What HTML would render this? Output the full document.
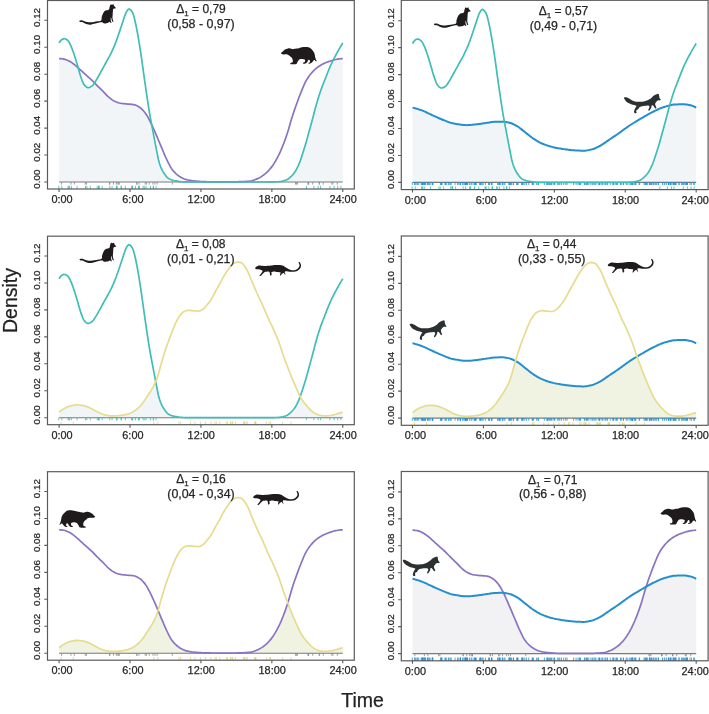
<!DOCTYPE html>
<html><head><meta charset="utf-8"><style>
html,body{margin:0;padding:0;background:#fff;}
body{width:709px;height:714px;overflow:hidden;}
svg{display:block;font-family:"Liberation Sans", sans-serif;filter:blur(0.35px);}
text{stroke:#262626;stroke-width:0.25px;}
</style></head><body>
<svg width="709" height="714" viewBox="0 0 709 714">
<rect width="709" height="714" fill="#fff"/>
<path d="M59.1,182 L59.1,58.57 60.28,58.61 61.46,58.72 62.65,58.88 63.83,59.07 65.01,59.32 66.19,59.72 67.37,60.22 68.56,60.79 69.74,61.4 70.92,62.07 72.1,62.86 73.28,63.74 74.47,64.65 75.65,65.59 76.83,66.6 78.01,67.67 79.19,71.51 80.38,75.49 81.56,78.93 82.74,82.17 83.92,84.54 85.1,85.88 86.29,86.95 87.47,87.59 88.65,87.62 89.83,87.25 91.01,86.61 92.2,85.84 93.38,84.55 94.56,82.89 95.74,84.12 96.92,85.34 98.11,86.53 99.29,87.68 100.47,88.82 101.65,89.96 102.83,91.11 104.02,92.31 105.2,93.57 106.38,94.84 107.56,96.05 108.74,97.14 109.93,98.12 111.11,99.05 112.29,99.9 113.47,100.65 114.65,101.26 115.84,101.8 117.02,102.28 118.2,102.69 119.38,103.02 120.56,103.25 121.75,103.42 122.93,103.56 124.11,103.69 125.29,103.81 126.47,103.93 127.66,104.03 128.84,104.11 130.02,104.2 131.2,104.3 132.38,104.42 133.57,104.58 134.75,104.81 135.93,105.22 137.11,105.78 138.29,106.45 139.48,107.2 140.66,108.03 141.84,109.08 143.02,110.31 144.2,111.68 145.39,113.16 146.57,114.91 147.75,116.94 148.93,119.12 150.11,121.39 151.3,123.85 152.48,128.94 153.66,135.15 154.84,141.39 156.02,147.67 157.21,153.69 158.39,159.53 159.57,163.82 160.75,167.04 161.93,169.7 163.12,171.87 164.3,173.68 165.48,175.35 166.66,176.81 167.84,177.97 169.03,178.77 170.21,179.31 171.39,179.77 172.57,180.15 173.75,180.47 174.94,180.73 176.12,180.94 177.3,181.13 178.48,181.31 179.66,181.48 180.85,181.62 182.03,181.73 183.21,181.82 184.39,181.87 185.57,181.89 186.76,181.92 187.94,181.94 189.12,181.96 190.3,181.97 191.48,181.98 192.67,181.99 193.85,182 195.03,182 196.21,182 197.39,182 198.58,182 199.76,182 200.94,182 202.12,182 203.3,182 204.49,182 205.67,182 206.85,182 208.03,182 209.21,182 210.4,182 211.58,182 212.76,182 213.94,182 215.12,182 216.31,182 217.49,182 218.67,182 219.85,182 221.03,182 222.22,182 223.4,182 224.58,182 225.76,182 226.94,182 228.13,182 229.31,182 230.49,182 231.67,182 232.85,182 234.04,182 235.22,182 236.4,182 237.58,182 238.76,182 239.95,182 241.13,182 242.31,182 243.49,182 244.67,182 245.86,182 247.04,182 248.22,182 249.4,182 250.58,182 251.77,182 252.95,182 254.13,182 255.31,182 256.49,182 257.68,182 258.86,182 260.04,182 261.22,182 262.4,182 263.59,182 264.77,182 265.95,182 267.13,182 268.31,181.99 269.5,181.97 270.68,181.95 271.86,181.93 273.04,181.9 274.22,181.86 275.41,181.82 276.59,181.78 277.77,181.73 278.95,181.65 280.13,181.5 281.32,181.3 282.5,181.05 283.68,180.76 284.86,180.43 286.04,180.04 287.23,179.47 288.41,178.71 289.59,177.8 290.77,176.74 291.95,175.57 293.14,174.31 294.32,172.88 295.5,171.07 296.68,168.92 297.86,166.53 299.05,163.95 300.23,160.88 301.41,157.4 302.59,153.75 303.77,150.08 304.96,146.23 306.14,142.25 307.32,138.11 308.5,133.84 309.68,129.53 310.87,125.19 312.05,120.81 313.23,116.39 314.41,111.83 315.59,107.33 316.78,103.12 317.96,99.1 319.14,95.27 320.32,91.7 321.5,88.4 322.69,85.28 323.87,82.26 325.05,79.25 326.23,76.22 327.41,73.21 328.6,70.27 329.78,67.44 330.96,64.78 332.14,62.27 333.32,60.07 334.51,59.75 335.69,59.49 336.87,59.28 338.05,59.08 339.23,58.9 340.42,58.75 341.6,58.64 342.78,58.57 L342.78,182 Z" fill="#f1f5f8"/>
<line x1="59.1" y1="182" x2="342.78" y2="182" stroke="#7a7a7a" stroke-width="1.1"/>
<path d="M61.48,182v2.6M70.96,182v2.6M74.4,182v2.6M85.2,182v2.6M86.48,182v2.6M109.67,182v2.6M109.74,182v2.6M113.45,182v2.6M116.35,182v2.6M117.84,182v2.6M118.96,182v2.6M118.99,182v2.6M136.79,182v2.6M136.98,182v2.6M139.01,182v2.6M145.17,182v2.6M146.46,182v2.6M149.18,182v2.6M152.99,182v2.6M154.98,182v2.6M157.11,182v2.6M172.39,182v2.6M295.58,182v2.6M296.4,182v2.6M297.57,182v2.6M308.08,182v2.6M308.3,182v2.6M308.7,182v2.6M312.74,182v2.6M319.18,182v2.6M319.59,182v2.6M323.28,182v2.6M331.84,182v2.6M332.88,182v2.6M337.32,182v2.6" stroke="#888888" stroke-width="0.8" fill="none"/>
<path d="M58.75,189v-3.2M61.81,189v-3.2M68.07,189v-3.2M68.86,189v-3.2M69.61,189v-3.2M71.36,189v-3.2M77.06,189v-3.2M85.53,189v-3.2M86.84,189v-3.2M90.28,189v-3.2M97.22,189v-3.2M98.6,189v-3.2M98.9,189v-3.2M99.05,189v-3.2M102.2,189v-3.2M109.77,189v-3.2M112.02,189v-3.2M116.49,189v-3.2M116.9,189v-3.2M116.99,189v-3.2M121.12,189v-3.2M121.33,189v-3.2M125.37,189v-3.2M131.62,189v-3.2M132.51,189v-3.2M132.52,189v-3.2M135.49,189v-3.2M138.59,189v-3.2M139.11,189v-3.2M139.14,189v-3.2M143.08,189v-3.2M144.28,189v-3.2M146.04,189v-3.2M150.53,189v-3.2M153.3,189v-3.2M153.41,189v-3.2M156.02,189v-3.2M306.48,189v-3.2M313.94,189v-3.2M318.2,189v-3.2M320.57,189v-3.2M329.92,189v-3.2M334.17,189v-3.2M337.67,189v-3.2M340.83,189v-3.2" stroke="#3fbdb6" stroke-width="0.8" fill="none"/>
<polyline points="59.1,58.57 60.28,58.61 61.46,58.72 62.65,58.88 63.83,59.07 65.01,59.32 66.19,59.72 67.37,60.22 68.56,60.79 69.74,61.4 70.92,62.07 72.1,62.86 73.28,63.74 74.47,64.65 75.65,65.59 76.83,66.6 78.01,67.67 79.19,68.77 80.38,69.86 81.56,70.93 82.74,72 83.92,73.07 85.1,74.13 86.29,75.2 87.47,76.26 88.65,77.3 89.83,78.34 91.01,79.4 92.2,80.51 93.38,81.68 94.56,82.89 95.74,84.12 96.92,85.34 98.11,86.53 99.29,87.68 100.47,88.82 101.65,89.96 102.83,91.11 104.02,92.31 105.2,93.57 106.38,94.84 107.56,96.05 108.74,97.14 109.93,98.12 111.11,99.05 112.29,99.9 113.47,100.65 114.65,101.26 115.84,101.8 117.02,102.28 118.2,102.69 119.38,103.02 120.56,103.25 121.75,103.42 122.93,103.56 124.11,103.69 125.29,103.81 126.47,103.93 127.66,104.03 128.84,104.11 130.02,104.2 131.2,104.3 132.38,104.42 133.57,104.58 134.75,104.81 135.93,105.22 137.11,105.78 138.29,106.45 139.48,107.2 140.66,108.03 141.84,109.08 143.02,110.31 144.2,111.68 145.39,113.16 146.57,114.91 147.75,116.94 148.93,119.12 150.11,121.39 151.3,123.85 152.48,126.42 153.66,129.04 154.84,131.71 156.02,134.44 157.21,137.21 158.39,139.99 159.57,142.81 160.75,145.64 161.93,148.44 163.12,151.24 164.3,154.05 165.48,156.76 166.66,159.3 167.84,161.8 169.03,164.23 170.21,166.48 171.39,168.41 172.57,169.97 173.75,171.37 174.94,172.65 176.12,173.79 177.3,174.81 178.48,175.69 179.66,176.48 180.85,177.21 182.03,177.88 183.21,178.47 184.39,178.98 185.57,179.37 186.76,179.68 187.94,179.96 189.12,180.21 190.3,180.43 191.48,180.63 192.67,180.8 193.85,180.94 195.03,181.06 196.21,181.16 197.39,181.26 198.58,181.35 199.76,181.43 200.94,181.51 202.12,181.57 203.3,181.63 204.49,181.68 205.67,181.71 206.85,181.73 208.03,181.74 209.21,181.76 210.4,181.77 211.58,181.78 212.76,181.79 213.94,181.8 215.12,181.81 216.31,181.82 217.49,181.82 218.67,181.83 219.85,181.84 221.03,181.84 222.22,181.85 223.4,181.85 224.58,181.86 225.76,181.86 226.94,181.86 228.13,181.86 229.31,181.86 230.49,181.87 231.67,181.86 232.85,181.85 234.04,181.83 235.22,181.81 236.4,181.78 237.58,181.75 238.76,181.72 239.95,181.68 241.13,181.64 242.31,181.6 243.49,181.55 244.67,181.49 245.86,181.42 247.04,181.34 248.22,181.24 249.4,181.12 250.58,180.97 251.77,180.73 252.95,180.4 254.13,180.01 255.31,179.56 256.49,179.09 257.68,178.6 258.86,178.03 260.04,177.39 261.22,176.68 262.4,175.9 263.59,175.07 264.77,174.18 265.95,173.17 267.13,172.06 268.31,170.85 269.5,169.54 270.68,168.15 271.86,166.65 273.04,164.99 274.22,163.18 275.41,161.22 276.59,159.15 277.77,156.98 278.95,154.66 280.13,152.13 281.32,149.41 282.5,146.54 283.68,143.56 284.86,140.41 286.04,137.05 287.23,133.52 288.41,129.82 289.59,125.75 290.77,121.56 291.95,117.56 293.14,113.89 294.32,110.37 295.5,106.98 296.68,103.67 297.86,100.43 299.05,97.29 300.23,94.26 301.41,91.34 302.59,88.41 303.77,85.57 304.96,82.95 306.14,80.67 307.32,78.7 308.5,76.92 309.68,75.3 310.87,73.82 312.05,72.44 313.23,71.16 314.41,69.98 315.59,68.9 316.78,67.93 317.96,67.04 319.14,66.22 320.32,65.46 321.5,64.77 322.69,64.12 323.87,63.52 325.05,62.97 326.23,62.47 327.41,62.01 328.6,61.59 329.78,61.2 330.96,60.82 332.14,60.44 333.32,60.07 334.51,59.75 335.69,59.49 336.87,59.28 338.05,59.08 339.23,58.9 340.42,58.75 341.6,58.64 342.78,58.57" fill="none" stroke="#8b72c2" stroke-width="1.7" stroke-linejoin="round"/>
<polyline points="59.1,43.07 60.28,41.15 61.46,39.89 62.65,39.08 63.83,38.64 65.01,38.77 66.19,39.26 67.37,39.97 68.56,41.31 69.74,43.45 70.92,45.88 72.1,48.74 73.28,52.08 74.47,55.59 75.65,59.37 76.83,63.33 78.01,67.32 79.19,71.51 80.38,75.49 81.56,78.93 82.74,82.17 83.92,84.54 85.1,85.88 86.29,86.95 87.47,87.59 88.65,87.62 89.83,87.25 91.01,86.61 92.2,85.84 93.38,84.55 94.56,82.77 95.74,80.93 96.92,78.97 98.11,76.87 99.29,74.72 100.47,72.61 101.65,70.47 102.83,68.31 104.02,66.14 105.2,63.98 106.38,61.86 107.56,59.78 108.74,57.66 109.93,55.43 111.11,53.07 112.29,50.59 113.47,47.97 114.65,45.17 115.84,42.11 117.02,38.86 118.2,35.52 119.38,32.11 120.56,28.55 121.75,24.98 122.93,21.49 124.11,17.75 125.29,14.28 126.47,11.87 127.66,9.97 128.84,8.99 130.02,9.39 131.2,10.6 132.38,12.3 133.57,15.15 134.75,19.76 135.93,25.02 137.11,30.87 138.29,37.59 139.48,44.69 140.66,52.33 141.84,60.33 143.02,68.83 144.2,77.41 145.39,85.7 146.57,93.83 147.75,101.69 148.93,109.36 150.11,116.51 151.3,122.83 152.48,128.94 153.66,135.15 154.84,141.39 156.02,147.67 157.21,153.69 158.39,159.53 159.57,163.82 160.75,167.04 161.93,169.7 163.12,171.87 164.3,173.68 165.48,175.35 166.66,176.81 167.84,177.97 169.03,178.77 170.21,179.31 171.39,179.77 172.57,180.15 173.75,180.47 174.94,180.73 176.12,180.94 177.3,181.13 178.48,181.31 179.66,181.48 180.85,181.62 182.03,181.73 183.21,181.82 184.39,181.87 185.57,181.89 186.76,181.92 187.94,181.94 189.12,181.96 190.3,181.97 191.48,181.98 192.67,181.99 193.85,182 195.03,182 196.21,182 197.39,182 198.58,182 199.76,182 200.94,182 202.12,182 203.3,182 204.49,182 205.67,182 206.85,182 208.03,182 209.21,182 210.4,182 211.58,182 212.76,182 213.94,182 215.12,182 216.31,182 217.49,182 218.67,182 219.85,182 221.03,182 222.22,182 223.4,182 224.58,182 225.76,182 226.94,182 228.13,182 229.31,182 230.49,182 231.67,182 232.85,182 234.04,182 235.22,182 236.4,182 237.58,182 238.76,182 239.95,182 241.13,182 242.31,182 243.49,182 244.67,182 245.86,182 247.04,182 248.22,182 249.4,182 250.58,182 251.77,182 252.95,182 254.13,182 255.31,182 256.49,182 257.68,182 258.86,182 260.04,182 261.22,182 262.4,182 263.59,182 264.77,182 265.95,182 267.13,182 268.31,181.99 269.5,181.97 270.68,181.95 271.86,181.93 273.04,181.9 274.22,181.86 275.41,181.82 276.59,181.78 277.77,181.73 278.95,181.65 280.13,181.5 281.32,181.3 282.5,181.05 283.68,180.76 284.86,180.43 286.04,180.04 287.23,179.47 288.41,178.71 289.59,177.8 290.77,176.74 291.95,175.57 293.14,174.31 294.32,172.88 295.5,171.07 296.68,168.92 297.86,166.53 299.05,163.95 300.23,160.88 301.41,157.4 302.59,153.75 303.77,150.08 304.96,146.23 306.14,142.25 307.32,138.11 308.5,133.84 309.68,129.53 310.87,125.19 312.05,120.81 313.23,116.39 314.41,111.83 315.59,107.33 316.78,103.12 317.96,99.1 319.14,95.27 320.32,91.7 321.5,88.4 322.69,85.28 323.87,82.26 325.05,79.25 326.23,76.22 327.41,73.21 328.6,70.27 329.78,67.44 330.96,64.78 332.14,62.27 333.32,59.87 334.51,57.56 335.69,55.33 336.87,53.15 338.05,51.02 339.23,48.94 340.42,46.92 341.6,44.97 342.78,43.07" fill="none" stroke="#3fbdb6" stroke-width="1.7" stroke-linejoin="round"/>
<rect x="47.5" y="0.5" width="306.8" height="188.5" fill="none" stroke="#5a5a5a" stroke-width="1.2"/>
<path d="M47.5,182h-3.2M47.5,155.05h-3.2M47.5,128.1h-3.2M47.5,101.15h-3.2M47.5,74.2h-3.2M47.5,47.25h-3.2M47.5,20.3h-3.2M59.1,189v3.0M130.02,189v3.0M200.94,189v3.0M271.86,189v3.0M342.78,189v3.0" stroke="#5a5a5a" stroke-width="1.1" fill="none"/>
<text x="40.3" y="179.15" transform="rotate(-90 40.3 179.15)" text-anchor="middle" font-size="9.8" fill="#262626">0.00</text>
<text x="40.3" y="152.2" transform="rotate(-90 40.3 152.2)" text-anchor="middle" font-size="9.8" fill="#262626">0.02</text>
<text x="40.3" y="125.25" transform="rotate(-90 40.3 125.25)" text-anchor="middle" font-size="9.8" fill="#262626">0.04</text>
<text x="40.3" y="98.3" transform="rotate(-90 40.3 98.3)" text-anchor="middle" font-size="9.8" fill="#262626">0.06</text>
<text x="40.3" y="71.35" transform="rotate(-90 40.3 71.35)" text-anchor="middle" font-size="9.8" fill="#262626">0.08</text>
<text x="40.3" y="44.4" transform="rotate(-90 40.3 44.4)" text-anchor="middle" font-size="9.8" fill="#262626">0.10</text>
<text x="40.3" y="17.45" transform="rotate(-90 40.3 17.45)" text-anchor="middle" font-size="9.8" fill="#262626">0.12</text>
<text x="62" y="203" text-anchor="middle" font-size="10.9" fill="#262626">0:00</text>
<text x="132.92" y="203" text-anchor="middle" font-size="10.9" fill="#262626">6:00</text>
<text x="201.24" y="203" text-anchor="middle" font-size="10.9" fill="#262626">12:00</text>
<text x="272.16" y="203" text-anchor="middle" font-size="10.9" fill="#262626">18:00</text>
<text x="343.08" y="203" text-anchor="middle" font-size="10.9" fill="#262626">24:00</text>
<text x="201" y="13" text-anchor="middle" font-size="12" fill="#262626">&#916;<tspan font-size="8" dy="3">1</tspan><tspan dy="-3"> = 0,79</tspan></text>
<text x="201" y="27.6" text-anchor="middle" font-size="12.4" fill="#262626">(0,58 - 0,97)</text>
<path d="M412.5,182.4 L412.5,107.61 413.68,107.89 414.86,108.18 416.05,108.5 417.23,108.85 418.41,109.21 419.59,109.6 420.77,110 421.96,110.43 423.14,110.91 424.32,111.42 425.5,111.96 426.68,112.52 427.87,113.09 429.05,113.66 430.23,114.22 431.41,114.76 432.59,115.29 433.78,115.83 434.96,116.37 436.14,116.91 437.32,117.45 438.5,117.98 439.69,118.5 440.87,118.99 442.05,119.47 443.23,119.95 444.41,120.43 445.6,120.92 446.78,121.39 447.96,121.84 449.14,122.27 450.32,122.65 451.51,122.98 452.69,123.24 453.87,123.48 455.05,123.71 456.23,123.93 457.42,124.15 458.6,124.35 459.78,124.54 460.96,124.71 462.14,124.85 463.33,124.97 464.51,125.06 465.69,125.11 466.87,125.13 468.05,125.11 469.24,125.06 470.42,124.97 471.6,124.87 472.78,124.74 473.96,124.61 475.15,124.46 476.33,124.32 477.51,124.19 478.69,124.05 479.87,123.89 481.06,123.72 482.24,123.55 483.42,123.36 484.6,123.18 485.78,123.01 486.97,122.84 488.15,122.67 489.33,122.48 490.51,122.29 491.69,122.11 492.88,121.95 494.06,121.83 495.24,121.76 496.42,121.73 497.6,121.69 498.79,121.67 499.97,121.65 501.15,121.63 502.33,121.63 503.51,121.67 504.7,123.23 505.88,129.34 507.06,135.55 508.24,141.79 509.42,148.07 510.61,154.09 511.79,159.93 512.97,164.22 514.15,167.44 515.33,170.1 516.52,172.27 517.7,174.08 518.88,175.75 520.06,177.21 521.24,178.37 522.43,179.17 523.61,179.71 524.79,180.17 525.97,180.55 527.15,180.87 528.34,181.13 529.52,181.34 530.7,181.53 531.88,181.71 533.06,181.88 534.25,182.02 535.43,182.13 536.61,182.22 537.79,182.27 538.97,182.29 540.16,182.32 541.34,182.34 542.52,182.36 543.7,182.37 544.88,182.38 546.07,182.39 547.25,182.4 548.43,182.4 549.61,182.4 550.79,182.4 551.98,182.4 553.16,182.4 554.34,182.4 555.52,182.4 556.7,182.4 557.89,182.4 559.07,182.4 560.25,182.4 561.43,182.4 562.61,182.4 563.8,182.4 564.98,182.4 566.16,182.4 567.34,182.4 568.52,182.4 569.71,182.4 570.89,182.4 572.07,182.4 573.25,182.4 574.43,182.4 575.62,182.4 576.8,182.4 577.98,182.4 579.16,182.4 580.34,182.4 581.53,182.4 582.71,182.4 583.89,182.4 585.07,182.4 586.25,182.4 587.44,182.4 588.62,182.4 589.8,182.4 590.98,182.4 592.16,182.4 593.35,182.4 594.53,182.4 595.71,182.4 596.89,182.4 598.07,182.4 599.26,182.4 600.44,182.4 601.62,182.4 602.8,182.4 603.98,182.4 605.17,182.4 606.35,182.4 607.53,182.4 608.71,182.4 609.89,182.4 611.08,182.4 612.26,182.4 613.44,182.4 614.62,182.4 615.8,182.4 616.99,182.4 618.17,182.4 619.35,182.4 620.53,182.4 621.71,182.39 622.9,182.37 624.08,182.35 625.26,182.33 626.44,182.3 627.62,182.26 628.81,182.22 629.99,182.18 631.17,182.13 632.35,182.05 633.53,181.9 634.72,181.7 635.9,181.45 637.08,181.16 638.26,180.83 639.44,180.44 640.63,179.87 641.81,179.11 642.99,178.2 644.17,177.14 645.35,175.97 646.54,174.71 647.72,173.28 648.9,171.47 650.08,169.32 651.26,166.93 652.45,164.35 653.63,161.28 654.81,157.8 655.99,154.15 657.17,150.48 658.36,146.63 659.54,142.65 660.72,138.51 661.9,134.24 663.08,129.93 664.27,125.59 665.45,121.21 666.63,116.79 667.81,112.23 668.99,107.73 670.18,105.26 671.36,105 672.54,104.78 673.72,104.61 674.9,104.51 676.09,104.45 677.27,104.39 678.45,104.34 679.63,104.3 680.81,104.27 682,104.25 683.18,104.25 684.36,104.28 685.54,104.38 686.72,104.54 687.91,104.73 689.09,104.95 690.27,105.19 691.45,105.49 692.63,105.91 693.82,106.42 695,106.99 696.18,107.61 L696.18,182.4 Z" fill="#f1f5f8"/>
<line x1="412.5" y1="182.4" x2="696.18" y2="182.4" stroke="#7a7a7a" stroke-width="1.1"/>
<path d="M412.27,182.4v2.6M414.43,182.4v2.6M415.21,182.4v2.6M416.15,182.4v2.6M417.5,182.4v2.6M418.79,182.4v2.6M421.17,182.4v2.6M421.73,182.4v2.6M422.61,182.4v2.6M422.64,182.4v2.6M423.07,182.4v2.6M423.31,182.4v2.6M424.33,182.4v2.6M424.96,182.4v2.6M425.09,182.4v2.6M425.29,182.4v2.6M427.4,182.4v2.6M427.45,182.4v2.6M428.79,182.4v2.6M429.08,182.4v2.6M430.12,182.4v2.6M432.1,182.4v2.6M432.49,182.4v2.6M432.55,182.4v2.6M432.84,182.4v2.6M440.67,182.4v2.6M441.14,182.4v2.6M441.26,182.4v2.6M441.53,182.4v2.6M442.01,182.4v2.6M445.09,182.4v2.6M445.33,182.4v2.6M446.66,182.4v2.6M448.64,182.4v2.6M448.99,182.4v2.6M450.88,182.4v2.6M450.94,182.4v2.6M455.05,182.4v2.6M457.6,182.4v2.6M458.19,182.4v2.6M460.09,182.4v2.6M460.37,182.4v2.6M460.51,182.4v2.6M460.59,182.4v2.6M462.86,182.4v2.6M462.96,182.4v2.6M464.78,182.4v2.6M465.23,182.4v2.6M465.44,182.4v2.6M465.49,182.4v2.6M466.34,182.4v2.6M466.49,182.4v2.6M467.29,182.4v2.6M467.62,182.4v2.6M469.41,182.4v2.6M471.09,182.4v2.6M471.94,182.4v2.6M473.99,182.4v2.6M474.57,182.4v2.6M475.32,182.4v2.6M475.6,182.4v2.6M476.25,182.4v2.6M479.54,182.4v2.6M480.66,182.4v2.6M480.79,182.4v2.6M480.8,182.4v2.6M482.22,182.4v2.6M483.22,182.4v2.6M485.41,182.4v2.6M488.76,182.4v2.6M488.88,182.4v2.6M489.57,182.4v2.6M491.47,182.4v2.6M491.48,182.4v2.6M492.11,182.4v2.6M497.73,182.4v2.6M498.17,182.4v2.6M499.34,182.4v2.6M499.39,182.4v2.6M499.69,182.4v2.6M500.8,182.4v2.6M502.55,182.4v2.6M502.62,182.4v2.6M504.04,182.4v2.6M504.93,182.4v2.6M509.05,182.4v2.6M509.09,182.4v2.6M509.4,182.4v2.6M510.12,182.4v2.6M510.72,182.4v2.6M511.59,182.4v2.6M513.3,182.4v2.6M513.47,182.4v2.6M516.8,182.4v2.6M517.15,182.4v2.6M517.67,182.4v2.6M517.99,182.4v2.6M521.84,182.4v2.6M521.91,182.4v2.6M522.43,182.4v2.6M523.23,182.4v2.6M524.79,182.4v2.6M526.48,182.4v2.6M528.78,182.4v2.6M532.17,182.4v2.6M532.53,182.4v2.6M533.49,182.4v2.6M536.63,182.4v2.6M538.09,182.4v2.6M538.41,182.4v2.6M544.36,182.4v2.6M546.96,182.4v2.6M547.1,182.4v2.6M547.84,182.4v2.6M548.11,182.4v2.6M549.49,182.4v2.6M550.59,182.4v2.6M551.53,182.4v2.6M553.1,182.4v2.6M554.34,182.4v2.6M554.77,182.4v2.6M557.71,182.4v2.6M558.83,182.4v2.6M559.81,182.4v2.6M561.48,182.4v2.6M563.71,182.4v2.6M565.73,182.4v2.6M567.06,182.4v2.6M573.59,182.4v2.6M576.05,182.4v2.6M577.99,182.4v2.6M579.36,182.4v2.6M579.97,182.4v2.6M580.52,182.4v2.6M584.47,182.4v2.6M585.08,182.4v2.6M586.61,182.4v2.6M586.78,182.4v2.6M587.63,182.4v2.6M588.88,182.4v2.6M590.95,182.4v2.6M592.41,182.4v2.6M593.9,182.4v2.6M594.95,182.4v2.6M595.96,182.4v2.6M598.32,182.4v2.6M599.51,182.4v2.6M599.59,182.4v2.6M601.13,182.4v2.6M602.43,182.4v2.6M604.05,182.4v2.6M605.54,182.4v2.6M607.17,182.4v2.6M607.27,182.4v2.6M610.25,182.4v2.6M612.77,182.4v2.6M613.36,182.4v2.6M613.92,182.4v2.6M615.84,182.4v2.6M616.56,182.4v2.6M617.38,182.4v2.6M620.51,182.4v2.6M621.26,182.4v2.6M623.29,182.4v2.6M623.53,182.4v2.6M626.16,182.4v2.6M627.22,182.4v2.6M629.17,182.4v2.6M630.7,182.4v2.6M631.58,182.4v2.6M632.12,182.4v2.6M632.5,182.4v2.6M632.57,182.4v2.6M634.04,182.4v2.6M635.06,182.4v2.6M635.16,182.4v2.6M635.92,182.4v2.6M639.18,182.4v2.6M639.63,182.4v2.6M644.01,182.4v2.6M644.96,182.4v2.6M645.83,182.4v2.6M646.08,182.4v2.6M646.44,182.4v2.6M647.32,182.4v2.6M649.34,182.4v2.6M649.66,182.4v2.6M649.95,182.4v2.6M650.08,182.4v2.6M651.43,182.4v2.6M651.79,182.4v2.6M653.01,182.4v2.6M653.74,182.4v2.6M654.93,182.4v2.6M655.89,182.4v2.6M656.76,182.4v2.6M658.44,182.4v2.6M658.46,182.4v2.6M662.47,182.4v2.6M664.19,182.4v2.6M664.86,182.4v2.6M666.67,182.4v2.6M668.41,182.4v2.6M668.45,182.4v2.6M669.19,182.4v2.6M670.52,182.4v2.6M670.56,182.4v2.6M671.18,182.4v2.6M672.98,182.4v2.6M673.43,182.4v2.6M673.83,182.4v2.6M674.55,182.4v2.6M675.35,182.4v2.6M675.77,182.4v2.6M675.96,182.4v2.6M678.88,182.4v2.6M679.11,182.4v2.6M681.48,182.4v2.6M682.62,182.4v2.6M683.65,182.4v2.6M684.32,182.4v2.6M685.55,182.4v2.6M686.62,182.4v2.6M686.73,182.4v2.6M687.27,182.4v2.6M687.51,182.4v2.6M690.04,182.4v2.6M691.45,182.4v2.6M693.66,182.4v2.6M694.62,182.4v2.6" stroke="#238fcf" stroke-width="0.8" fill="none"/>
<path d="M412.15,189.6v-3.2M415.21,189.6v-3.2M421.47,189.6v-3.2M422.26,189.6v-3.2M423.01,189.6v-3.2M424.76,189.6v-3.2M430.46,189.6v-3.2M438.93,189.6v-3.2M440.24,189.6v-3.2M443.68,189.6v-3.2M450.62,189.6v-3.2M452,189.6v-3.2M452.3,189.6v-3.2M452.45,189.6v-3.2M455.6,189.6v-3.2M463.17,189.6v-3.2M465.42,189.6v-3.2M469.89,189.6v-3.2M470.3,189.6v-3.2M470.39,189.6v-3.2M474.52,189.6v-3.2M474.73,189.6v-3.2M478.77,189.6v-3.2M485.02,189.6v-3.2M485.91,189.6v-3.2M485.92,189.6v-3.2M488.89,189.6v-3.2M491.99,189.6v-3.2M492.51,189.6v-3.2M492.54,189.6v-3.2M496.48,189.6v-3.2M497.68,189.6v-3.2M499.44,189.6v-3.2M503.93,189.6v-3.2M506.7,189.6v-3.2M506.81,189.6v-3.2M509.42,189.6v-3.2M659.88,189.6v-3.2M667.34,189.6v-3.2M671.6,189.6v-3.2M673.97,189.6v-3.2M683.32,189.6v-3.2M687.57,189.6v-3.2M691.07,189.6v-3.2M694.23,189.6v-3.2" stroke="#3fbdb6" stroke-width="0.8" fill="none"/>
<polyline points="412.5,107.61 413.68,107.89 414.86,108.18 416.05,108.5 417.23,108.85 418.41,109.21 419.59,109.6 420.77,110 421.96,110.43 423.14,110.91 424.32,111.42 425.5,111.96 426.68,112.52 427.87,113.09 429.05,113.66 430.23,114.22 431.41,114.76 432.59,115.29 433.78,115.83 434.96,116.37 436.14,116.91 437.32,117.45 438.5,117.98 439.69,118.5 440.87,118.99 442.05,119.47 443.23,119.95 444.41,120.43 445.6,120.92 446.78,121.39 447.96,121.84 449.14,122.27 450.32,122.65 451.51,122.98 452.69,123.24 453.87,123.48 455.05,123.71 456.23,123.93 457.42,124.15 458.6,124.35 459.78,124.54 460.96,124.71 462.14,124.85 463.33,124.97 464.51,125.06 465.69,125.11 466.87,125.13 468.05,125.11 469.24,125.06 470.42,124.97 471.6,124.87 472.78,124.74 473.96,124.61 475.15,124.46 476.33,124.32 477.51,124.19 478.69,124.05 479.87,123.89 481.06,123.72 482.24,123.55 483.42,123.36 484.6,123.18 485.78,123.01 486.97,122.84 488.15,122.67 489.33,122.48 490.51,122.29 491.69,122.11 492.88,121.95 494.06,121.83 495.24,121.76 496.42,121.73 497.6,121.69 498.79,121.67 499.97,121.65 501.15,121.63 502.33,121.63 503.51,121.67 504.7,121.79 505.88,121.97 507.06,122.18 508.24,122.41 509.42,122.69 510.61,123.06 511.79,123.5 512.97,124.02 514.15,124.58 515.33,125.19 516.52,125.81 517.7,126.49 518.88,127.29 520.06,128.18 521.24,129.13 522.43,130.12 523.61,131.1 524.79,132.04 525.97,132.95 527.15,133.87 528.34,134.81 529.52,135.73 530.7,136.64 531.88,137.52 533.06,138.35 534.25,139.12 535.43,139.88 536.61,140.63 537.79,141.34 538.97,142.02 540.16,142.65 541.34,143.23 542.52,143.74 543.7,144.22 544.88,144.67 546.07,145.1 547.25,145.5 548.43,145.88 549.61,146.24 550.79,146.58 551.98,146.89 553.16,147.18 554.34,147.44 555.52,147.7 556.7,147.94 557.89,148.16 559.07,148.38 560.25,148.58 561.43,148.77 562.61,148.95 563.8,149.12 564.98,149.28 566.16,149.44 567.34,149.6 568.52,149.75 569.71,149.89 570.89,150.02 572.07,150.15 573.25,150.26 574.43,150.36 575.62,150.44 576.8,150.5 577.98,150.57 579.16,150.62 580.34,150.67 581.53,150.71 582.71,150.73 583.89,150.72 585.07,150.65 586.25,150.51 587.44,150.33 588.62,150.11 589.8,149.86 590.98,149.6 592.16,149.31 593.35,148.94 594.53,148.5 595.71,147.99 596.89,147.44 598.07,146.85 599.26,146.24 600.44,145.62 601.62,144.95 602.8,144.2 603.98,143.4 605.17,142.57 606.35,141.72 607.53,140.88 608.71,140.06 609.89,139.27 611.08,138.48 612.26,137.7 613.44,136.92 614.62,136.13 615.8,135.34 616.99,134.54 618.17,133.73 619.35,132.89 620.53,132.04 621.71,131.17 622.9,130.3 624.08,129.42 625.26,128.55 626.44,127.7 627.62,126.85 628.81,126.03 629.99,125.25 631.17,124.48 632.35,123.72 633.53,122.98 634.72,122.26 635.9,121.54 637.08,120.83 638.26,120.13 639.44,119.43 640.63,118.74 641.81,118.05 642.99,117.36 644.17,116.66 645.35,115.97 646.54,115.29 647.72,114.61 648.9,113.95 650.08,113.3 651.26,112.67 652.45,112.06 653.63,111.48 654.81,110.91 655.99,110.34 657.17,109.77 658.36,109.23 659.54,108.7 660.72,108.2 661.9,107.74 663.08,107.32 664.27,106.94 665.45,106.59 666.63,106.23 667.81,105.89 668.99,105.56 670.18,105.26 671.36,105 672.54,104.78 673.72,104.61 674.9,104.51 676.09,104.45 677.27,104.39 678.45,104.34 679.63,104.3 680.81,104.27 682,104.25 683.18,104.25 684.36,104.28 685.54,104.38 686.72,104.54 687.91,104.73 689.09,104.95 690.27,105.19 691.45,105.49 692.63,105.91 693.82,106.42 695,106.99 696.18,107.61" fill="none" stroke="#238fcf" stroke-width="2.0" stroke-linejoin="round"/>
<polyline points="412.5,43.47 413.68,41.55 414.86,40.29 416.05,39.48 417.23,39.04 418.41,39.17 419.59,39.66 420.77,40.37 421.96,41.71 423.14,43.85 424.32,46.28 425.5,49.14 426.68,52.48 427.87,55.99 429.05,59.77 430.23,63.73 431.41,67.72 432.59,71.91 433.78,75.89 434.96,79.33 436.14,82.57 437.32,84.94 438.5,86.28 439.69,87.35 440.87,87.99 442.05,88.02 443.23,87.65 444.41,87.01 445.6,86.24 446.78,84.95 447.96,83.17 449.14,81.33 450.32,79.37 451.51,77.27 452.69,75.12 453.87,73.01 455.05,70.87 456.23,68.71 457.42,66.54 458.6,64.38 459.78,62.26 460.96,60.18 462.14,58.06 463.33,55.83 464.51,53.47 465.69,50.99 466.87,48.37 468.05,45.57 469.24,42.51 470.42,39.26 471.6,35.92 472.78,32.51 473.96,28.95 475.15,25.38 476.33,21.89 477.51,18.15 478.69,14.68 479.87,12.27 481.06,10.37 482.24,9.39 483.42,9.79 484.6,11 485.78,12.7 486.97,15.55 488.15,20.16 489.33,25.42 490.51,31.27 491.69,37.99 492.88,45.09 494.06,52.73 495.24,60.73 496.42,69.23 497.6,77.81 498.79,86.1 499.97,94.23 501.15,102.09 502.33,109.76 503.51,116.91 504.7,123.23 505.88,129.34 507.06,135.55 508.24,141.79 509.42,148.07 510.61,154.09 511.79,159.93 512.97,164.22 514.15,167.44 515.33,170.1 516.52,172.27 517.7,174.08 518.88,175.75 520.06,177.21 521.24,178.37 522.43,179.17 523.61,179.71 524.79,180.17 525.97,180.55 527.15,180.87 528.34,181.13 529.52,181.34 530.7,181.53 531.88,181.71 533.06,181.88 534.25,182.02 535.43,182.13 536.61,182.22 537.79,182.27 538.97,182.29 540.16,182.32 541.34,182.34 542.52,182.36 543.7,182.37 544.88,182.38 546.07,182.39 547.25,182.4 548.43,182.4 549.61,182.4 550.79,182.4 551.98,182.4 553.16,182.4 554.34,182.4 555.52,182.4 556.7,182.4 557.89,182.4 559.07,182.4 560.25,182.4 561.43,182.4 562.61,182.4 563.8,182.4 564.98,182.4 566.16,182.4 567.34,182.4 568.52,182.4 569.71,182.4 570.89,182.4 572.07,182.4 573.25,182.4 574.43,182.4 575.62,182.4 576.8,182.4 577.98,182.4 579.16,182.4 580.34,182.4 581.53,182.4 582.71,182.4 583.89,182.4 585.07,182.4 586.25,182.4 587.44,182.4 588.62,182.4 589.8,182.4 590.98,182.4 592.16,182.4 593.35,182.4 594.53,182.4 595.71,182.4 596.89,182.4 598.07,182.4 599.26,182.4 600.44,182.4 601.62,182.4 602.8,182.4 603.98,182.4 605.17,182.4 606.35,182.4 607.53,182.4 608.71,182.4 609.89,182.4 611.08,182.4 612.26,182.4 613.44,182.4 614.62,182.4 615.8,182.4 616.99,182.4 618.17,182.4 619.35,182.4 620.53,182.4 621.71,182.39 622.9,182.37 624.08,182.35 625.26,182.33 626.44,182.3 627.62,182.26 628.81,182.22 629.99,182.18 631.17,182.13 632.35,182.05 633.53,181.9 634.72,181.7 635.9,181.45 637.08,181.16 638.26,180.83 639.44,180.44 640.63,179.87 641.81,179.11 642.99,178.2 644.17,177.14 645.35,175.97 646.54,174.71 647.72,173.28 648.9,171.47 650.08,169.32 651.26,166.93 652.45,164.35 653.63,161.28 654.81,157.8 655.99,154.15 657.17,150.48 658.36,146.63 659.54,142.65 660.72,138.51 661.9,134.24 663.08,129.93 664.27,125.59 665.45,121.21 666.63,116.79 667.81,112.23 668.99,107.73 670.18,103.52 671.36,99.5 672.54,95.67 673.72,92.1 674.9,88.8 676.09,85.68 677.27,82.66 678.45,79.65 679.63,76.62 680.81,73.61 682,70.67 683.18,67.84 684.36,65.18 685.54,62.67 686.72,60.27 687.91,57.96 689.09,55.73 690.27,53.55 691.45,51.42 692.63,49.34 693.82,47.32 695,45.37 696.18,43.47" fill="none" stroke="#3fbdb6" stroke-width="1.7" stroke-linejoin="round"/>
<rect x="401.3" y="0.3" width="306.8" height="189.3" fill="none" stroke="#5a5a5a" stroke-width="1.2"/>
<path d="M401.3,182.4h-3.2M401.3,155.45h-3.2M401.3,128.5h-3.2M401.3,101.55h-3.2M401.3,74.6h-3.2M401.3,47.65h-3.2M401.3,20.7h-3.2M412.5,189.6v3.0M483.42,189.6v3.0M554.34,189.6v3.0M625.26,189.6v3.0M696.18,189.6v3.0" stroke="#5a5a5a" stroke-width="1.1" fill="none"/>
<text x="394.1" y="179.55" transform="rotate(-90 394.1 179.55)" text-anchor="middle" font-size="9.8" fill="#262626">0.00</text>
<text x="394.1" y="152.6" transform="rotate(-90 394.1 152.6)" text-anchor="middle" font-size="9.8" fill="#262626">0.02</text>
<text x="394.1" y="125.65" transform="rotate(-90 394.1 125.65)" text-anchor="middle" font-size="9.8" fill="#262626">0.04</text>
<text x="394.1" y="98.7" transform="rotate(-90 394.1 98.7)" text-anchor="middle" font-size="9.8" fill="#262626">0.06</text>
<text x="394.1" y="71.75" transform="rotate(-90 394.1 71.75)" text-anchor="middle" font-size="9.8" fill="#262626">0.08</text>
<text x="394.1" y="44.8" transform="rotate(-90 394.1 44.8)" text-anchor="middle" font-size="9.8" fill="#262626">0.10</text>
<text x="394.1" y="17.85" transform="rotate(-90 394.1 17.85)" text-anchor="middle" font-size="9.8" fill="#262626">0.12</text>
<text x="415.4" y="203.6" text-anchor="middle" font-size="10.9" fill="#262626">0:00</text>
<text x="486.32" y="203.6" text-anchor="middle" font-size="10.9" fill="#262626">6:00</text>
<text x="554.64" y="203.6" text-anchor="middle" font-size="10.9" fill="#262626">12:00</text>
<text x="625.56" y="203.6" text-anchor="middle" font-size="10.9" fill="#262626">18:00</text>
<text x="695.18" y="203.6" text-anchor="middle" font-size="10.9" fill="#262626">24:00</text>
<text x="563.5" y="15.2" text-anchor="middle" font-size="12" fill="#262626">&#916;<tspan font-size="8" dy="3">1</tspan><tspan dy="-3"> = 0,57</tspan></text>
<text x="563.5" y="29.8" text-anchor="middle" font-size="12.4" fill="#262626">(0,49 - 0,71)</text>
<path d="M59.1,417.7 L59.1,412.18 60.28,411.25 61.46,410.38 62.65,409.58 63.83,408.85 65.01,408.21 66.19,407.61 67.37,407.06 68.56,406.55 69.74,406.13 70.92,405.81 72.1,405.54 73.28,405.29 74.47,405.08 75.65,404.94 76.83,404.9 78.01,404.93 79.19,405.02 80.38,405.14 81.56,405.29 82.74,405.46 83.92,405.69 85.1,406.02 86.29,406.42 87.47,406.87 88.65,407.32 89.83,407.83 91.01,408.41 92.2,409.03 93.38,409.67 94.56,410.29 95.74,410.91 96.92,411.56 98.11,412.2 99.29,412.79 100.47,413.3 101.65,413.76 102.83,414.19 104.02,414.57 105.2,414.9 106.38,415.16 107.56,415.39 108.74,415.6 109.93,415.78 111.11,415.9 112.29,415.95 113.47,415.93 114.65,415.89 115.84,415.83 117.02,415.76 118.2,415.68 119.38,415.58 120.56,415.45 121.75,415.3 122.93,415.12 124.11,414.91 125.29,414.69 126.47,414.41 127.66,414.07 128.84,413.67 130.02,413.22 131.2,412.73 132.38,412.15 133.57,411.49 134.75,410.74 135.93,409.92 137.11,409 138.29,407.94 139.48,406.74 140.66,405.45 141.84,404.09 143.02,402.6 144.2,400.95 145.39,399.2 146.57,397.4 147.75,395.61 148.93,393.84 150.11,392.04 151.3,390.15 152.48,388.11 153.66,385.89 154.84,383.46 156.02,383.37 157.21,389.39 158.39,395.23 159.57,399.52 160.75,402.74 161.93,405.4 163.12,407.57 164.3,409.38 165.48,411.05 166.66,412.51 167.84,413.67 169.03,414.47 170.21,415.01 171.39,415.47 172.57,415.85 173.75,416.17 174.94,416.43 176.12,416.64 177.3,416.83 178.48,417.01 179.66,417.18 180.85,417.32 182.03,417.43 183.21,417.52 184.39,417.57 185.57,417.59 186.76,417.62 187.94,417.64 189.12,417.66 190.3,417.67 191.48,417.68 192.67,417.69 193.85,417.7 195.03,417.7 196.21,417.7 197.39,417.7 198.58,417.7 199.76,417.7 200.94,417.7 202.12,417.7 203.3,417.7 204.49,417.7 205.67,417.7 206.85,417.7 208.03,417.7 209.21,417.7 210.4,417.7 211.58,417.7 212.76,417.7 213.94,417.7 215.12,417.7 216.31,417.7 217.49,417.7 218.67,417.7 219.85,417.7 221.03,417.7 222.22,417.7 223.4,417.7 224.58,417.7 225.76,417.7 226.94,417.7 228.13,417.7 229.31,417.7 230.49,417.7 231.67,417.7 232.85,417.7 234.04,417.7 235.22,417.7 236.4,417.7 237.58,417.7 238.76,417.7 239.95,417.7 241.13,417.7 242.31,417.7 243.49,417.7 244.67,417.7 245.86,417.7 247.04,417.7 248.22,417.7 249.4,417.7 250.58,417.7 251.77,417.7 252.95,417.7 254.13,417.7 255.31,417.7 256.49,417.7 257.68,417.7 258.86,417.7 260.04,417.7 261.22,417.7 262.4,417.7 263.59,417.7 264.77,417.7 265.95,417.7 267.13,417.7 268.31,417.69 269.5,417.67 270.68,417.65 271.86,417.63 273.04,417.6 274.22,417.56 275.41,417.52 276.59,417.48 277.77,417.43 278.95,417.35 280.13,417.2 281.32,417 282.5,416.75 283.68,416.46 284.86,416.13 286.04,415.74 287.23,415.17 288.41,414.41 289.59,413.5 290.77,412.44 291.95,411.27 293.14,410.01 294.32,408.58 295.5,406.77 296.68,404.62 297.86,402.23 299.05,399.65 300.23,396.69 301.41,398.83 302.59,400.62 303.77,402.19 304.96,403.69 306.14,405.15 307.32,406.55 308.5,407.86 309.68,409.12 310.87,410.32 312.05,411.37 313.23,412.29 314.41,413.12 315.59,413.79 316.78,414.34 317.96,414.8 319.14,415.14 320.32,415.38 321.5,415.58 322.69,415.69 323.87,415.75 325.05,415.8 326.23,415.81 327.41,415.77 328.6,415.66 329.78,415.53 330.96,415.35 332.14,415.11 333.32,414.84 334.51,414.55 335.69,414.23 336.87,413.89 338.05,413.54 339.23,413.17 340.42,412.82 341.6,412.49 342.78,412.18 L342.78,417.7 Z" fill="#f1f5f8"/>
<line x1="59.1" y1="417.7" x2="342.78" y2="417.7" stroke="#7a7a7a" stroke-width="1.1"/>
<path d="M58.75,417.7v2.6M61.81,417.7v2.6M68.07,417.7v2.6M68.86,417.7v2.6M69.61,417.7v2.6M71.36,417.7v2.6M77.06,417.7v2.6M85.53,417.7v2.6M86.84,417.7v2.6M90.28,417.7v2.6M97.22,417.7v2.6M98.6,417.7v2.6M98.9,417.7v2.6M99.05,417.7v2.6M102.2,417.7v2.6M109.77,417.7v2.6M112.02,417.7v2.6M116.49,417.7v2.6M116.9,417.7v2.6M116.99,417.7v2.6M121.12,417.7v2.6M121.33,417.7v2.6M125.37,417.7v2.6M131.62,417.7v2.6M132.51,417.7v2.6M132.52,417.7v2.6M135.49,417.7v2.6M138.59,417.7v2.6M139.11,417.7v2.6M139.14,417.7v2.6M143.08,417.7v2.6M144.28,417.7v2.6M146.04,417.7v2.6M150.53,417.7v2.6M153.3,417.7v2.6M153.41,417.7v2.6M156.02,417.7v2.6M306.48,417.7v2.6M313.94,417.7v2.6M318.2,417.7v2.6M320.57,417.7v2.6M329.92,417.7v2.6M334.17,417.7v2.6M337.67,417.7v2.6M340.83,417.7v2.6" stroke="#3fbdb6" stroke-width="0.8" fill="none"/>
<path d="M61.06,424.7v-3.2M73.26,424.7v-3.2M153.73,424.7v-3.2M157.83,424.7v-3.2M178.95,424.7v-3.2M180.64,424.7v-3.2M190.47,424.7v-3.2M194.86,424.7v-3.2M200.44,424.7v-3.2M205.65,424.7v-3.2M210.83,424.7v-3.2M215,424.7v-3.2M216.35,424.7v-3.2M219.74,424.7v-3.2M226.31,424.7v-3.2M227.67,424.7v-3.2M230.56,424.7v-3.2M230.83,424.7v-3.2M232.28,424.7v-3.2M232.71,424.7v-3.2M235.41,424.7v-3.2M243.66,424.7v-3.2M243.86,424.7v-3.2M244.6,424.7v-3.2M246.12,424.7v-3.2M247.3,424.7v-3.2M254.57,424.7v-3.2M255.5,424.7v-3.2M255.51,424.7v-3.2M256.06,424.7v-3.2M266.37,424.7v-3.2M269.22,424.7v-3.2M270.6,424.7v-3.2M282.63,424.7v-3.2M290.96,424.7v-3.2" stroke="#e2d47a" stroke-width="0.8" fill="none"/>
<polyline points="59.1,278.77 60.28,276.85 61.46,275.59 62.65,274.78 63.83,274.34 65.01,274.47 66.19,274.96 67.37,275.67 68.56,277.01 69.74,279.15 70.92,281.58 72.1,284.44 73.28,287.78 74.47,291.29 75.65,295.07 76.83,299.03 78.01,303.02 79.19,307.21 80.38,311.19 81.56,314.63 82.74,317.87 83.92,320.24 85.1,321.58 86.29,322.65 87.47,323.29 88.65,323.32 89.83,322.95 91.01,322.31 92.2,321.54 93.38,320.25 94.56,318.47 95.74,316.63 96.92,314.67 98.11,312.57 99.29,310.42 100.47,308.31 101.65,306.17 102.83,304.01 104.02,301.84 105.2,299.68 106.38,297.56 107.56,295.48 108.74,293.36 109.93,291.13 111.11,288.77 112.29,286.29 113.47,283.67 114.65,280.87 115.84,277.81 117.02,274.56 118.2,271.22 119.38,267.81 120.56,264.25 121.75,260.68 122.93,257.19 124.11,253.45 125.29,249.98 126.47,247.57 127.66,245.67 128.84,244.69 130.02,245.09 131.2,246.3 132.38,248 133.57,250.85 134.75,255.46 135.93,260.72 137.11,266.57 138.29,273.29 139.48,280.39 140.66,288.03 141.84,296.03 143.02,304.53 144.2,313.11 145.39,321.4 146.57,329.53 147.75,337.39 148.93,345.06 150.11,352.21 151.3,358.53 152.48,364.64 153.66,370.85 154.84,377.09 156.02,383.37 157.21,389.39 158.39,395.23 159.57,399.52 160.75,402.74 161.93,405.4 163.12,407.57 164.3,409.38 165.48,411.05 166.66,412.51 167.84,413.67 169.03,414.47 170.21,415.01 171.39,415.47 172.57,415.85 173.75,416.17 174.94,416.43 176.12,416.64 177.3,416.83 178.48,417.01 179.66,417.18 180.85,417.32 182.03,417.43 183.21,417.52 184.39,417.57 185.57,417.59 186.76,417.62 187.94,417.64 189.12,417.66 190.3,417.67 191.48,417.68 192.67,417.69 193.85,417.7 195.03,417.7 196.21,417.7 197.39,417.7 198.58,417.7 199.76,417.7 200.94,417.7 202.12,417.7 203.3,417.7 204.49,417.7 205.67,417.7 206.85,417.7 208.03,417.7 209.21,417.7 210.4,417.7 211.58,417.7 212.76,417.7 213.94,417.7 215.12,417.7 216.31,417.7 217.49,417.7 218.67,417.7 219.85,417.7 221.03,417.7 222.22,417.7 223.4,417.7 224.58,417.7 225.76,417.7 226.94,417.7 228.13,417.7 229.31,417.7 230.49,417.7 231.67,417.7 232.85,417.7 234.04,417.7 235.22,417.7 236.4,417.7 237.58,417.7 238.76,417.7 239.95,417.7 241.13,417.7 242.31,417.7 243.49,417.7 244.67,417.7 245.86,417.7 247.04,417.7 248.22,417.7 249.4,417.7 250.58,417.7 251.77,417.7 252.95,417.7 254.13,417.7 255.31,417.7 256.49,417.7 257.68,417.7 258.86,417.7 260.04,417.7 261.22,417.7 262.4,417.7 263.59,417.7 264.77,417.7 265.95,417.7 267.13,417.7 268.31,417.69 269.5,417.67 270.68,417.65 271.86,417.63 273.04,417.6 274.22,417.56 275.41,417.52 276.59,417.48 277.77,417.43 278.95,417.35 280.13,417.2 281.32,417 282.5,416.75 283.68,416.46 284.86,416.13 286.04,415.74 287.23,415.17 288.41,414.41 289.59,413.5 290.77,412.44 291.95,411.27 293.14,410.01 294.32,408.58 295.5,406.77 296.68,404.62 297.86,402.23 299.05,399.65 300.23,396.58 301.41,393.1 302.59,389.45 303.77,385.78 304.96,381.93 306.14,377.95 307.32,373.81 308.5,369.54 309.68,365.23 310.87,360.89 312.05,356.51 313.23,352.09 314.41,347.53 315.59,343.03 316.78,338.82 317.96,334.8 319.14,330.97 320.32,327.4 321.5,324.1 322.69,320.98 323.87,317.96 325.05,314.95 326.23,311.92 327.41,308.91 328.6,305.97 329.78,303.14 330.96,300.48 332.14,297.97 333.32,295.57 334.51,293.26 335.69,291.03 336.87,288.85 338.05,286.72 339.23,284.64 340.42,282.62 341.6,280.67 342.78,278.77" fill="none" stroke="#3fbdb6" stroke-width="1.7" stroke-linejoin="round"/>
<polyline points="59.1,412.18 60.28,411.25 61.46,410.38 62.65,409.58 63.83,408.85 65.01,408.21 66.19,407.61 67.37,407.06 68.56,406.55 69.74,406.13 70.92,405.81 72.1,405.54 73.28,405.29 74.47,405.08 75.65,404.94 76.83,404.9 78.01,404.93 79.19,405.02 80.38,405.14 81.56,405.29 82.74,405.46 83.92,405.69 85.1,406.02 86.29,406.42 87.47,406.87 88.65,407.32 89.83,407.83 91.01,408.41 92.2,409.03 93.38,409.67 94.56,410.29 95.74,410.91 96.92,411.56 98.11,412.2 99.29,412.79 100.47,413.3 101.65,413.76 102.83,414.19 104.02,414.57 105.2,414.9 106.38,415.16 107.56,415.39 108.74,415.6 109.93,415.78 111.11,415.9 112.29,415.95 113.47,415.93 114.65,415.89 115.84,415.83 117.02,415.76 118.2,415.68 119.38,415.58 120.56,415.45 121.75,415.3 122.93,415.12 124.11,414.91 125.29,414.69 126.47,414.41 127.66,414.07 128.84,413.67 130.02,413.22 131.2,412.73 132.38,412.15 133.57,411.49 134.75,410.74 135.93,409.92 137.11,409 138.29,407.94 139.48,406.74 140.66,405.45 141.84,404.09 143.02,402.6 144.2,400.95 145.39,399.2 146.57,397.4 147.75,395.61 148.93,393.84 150.11,392.04 151.3,390.15 152.48,388.11 153.66,385.89 154.84,383.46 156.02,380.76 157.21,377.7 158.39,373.93 159.57,369.67 160.75,365.32 161.93,361.27 163.12,357.32 164.3,353.44 165.48,349.73 166.66,346.24 167.84,342.94 169.03,339.77 170.21,336.66 171.39,333.54 172.57,330.44 173.75,327.45 174.94,324.72 176.12,322.17 177.3,319.74 178.48,317.6 179.66,315.9 180.85,314.39 182.03,313.07 183.21,312.06 184.39,311.43 185.57,310.93 186.76,310.54 187.94,310.33 189.12,310.32 190.3,310.41 191.48,310.54 192.67,310.69 193.85,310.81 195.03,310.91 196.21,311.01 197.39,311.09 198.58,311.11 199.76,310.89 200.94,310.38 202.12,309.71 203.3,308.95 204.49,307.83 205.67,306.46 206.85,305.05 208.03,303.64 209.21,302.13 210.4,300.49 211.58,298.69 212.76,296.57 213.94,294.28 215.12,292.01 216.31,289.88 217.49,287.8 218.67,285.72 219.85,283.6 221.03,281.37 222.22,279.11 223.4,276.96 224.58,274.97 225.76,273.08 226.94,271.29 228.13,269.61 229.31,267.94 230.49,266.31 231.67,264.98 232.85,264.08 234.04,263.28 235.22,262.62 236.4,262.18 237.58,262.07 238.76,262.17 239.95,262.4 241.13,262.72 242.31,263.28 243.49,264.57 244.67,266.27 245.86,268.04 247.04,270.11 248.22,272.48 249.4,275.18 250.58,278.24 251.77,281.21 252.95,283.94 254.13,286.61 255.31,289.29 256.49,292.02 257.68,294.74 258.86,297.31 260.04,299.69 261.22,302.05 262.4,304.6 263.59,307.34 264.77,310.14 265.95,312.94 267.13,315.8 268.31,318.54 269.5,321 270.68,323.28 271.86,325.67 273.04,328.31 274.22,331.1 275.41,333.89 276.59,336.6 277.77,339.36 278.95,342.38 280.13,345.79 281.32,349.41 282.5,353.03 283.68,356.44 284.86,359.67 286.04,362.83 287.23,365.95 288.41,369.03 289.59,372.06 290.77,375.04 291.95,377.96 293.14,380.83 294.32,383.63 295.5,386.39 296.68,389.08 297.86,391.66 299.05,394.23 300.23,396.69 301.41,398.83 302.59,400.62 303.77,402.19 304.96,403.69 306.14,405.15 307.32,406.55 308.5,407.86 309.68,409.12 310.87,410.32 312.05,411.37 313.23,412.29 314.41,413.12 315.59,413.79 316.78,414.34 317.96,414.8 319.14,415.14 320.32,415.38 321.5,415.58 322.69,415.69 323.87,415.75 325.05,415.8 326.23,415.81 327.41,415.77 328.6,415.66 329.78,415.53 330.96,415.35 332.14,415.11 333.32,414.84 334.51,414.55 335.69,414.23 336.87,413.89 338.05,413.54 339.23,413.17 340.42,412.82 341.6,412.49 342.78,412.18" fill="none" stroke="#e7dc8e" stroke-width="1.7" stroke-linejoin="round"/>
<rect x="47.5" y="236.2" width="306.8" height="188.5" fill="none" stroke="#5a5a5a" stroke-width="1.2"/>
<path d="M47.5,417.7h-3.2M47.5,390.75h-3.2M47.5,363.8h-3.2M47.5,336.85h-3.2M47.5,309.9h-3.2M47.5,282.95h-3.2M47.5,256h-3.2M59.1,424.7v3.0M130.02,424.7v3.0M200.94,424.7v3.0M271.86,424.7v3.0M342.78,424.7v3.0" stroke="#5a5a5a" stroke-width="1.1" fill="none"/>
<text x="40.3" y="414.85" transform="rotate(-90 40.3 414.85)" text-anchor="middle" font-size="9.8" fill="#262626">0.00</text>
<text x="40.3" y="387.9" transform="rotate(-90 40.3 387.9)" text-anchor="middle" font-size="9.8" fill="#262626">0.02</text>
<text x="40.3" y="360.95" transform="rotate(-90 40.3 360.95)" text-anchor="middle" font-size="9.8" fill="#262626">0.04</text>
<text x="40.3" y="334" transform="rotate(-90 40.3 334)" text-anchor="middle" font-size="9.8" fill="#262626">0.06</text>
<text x="40.3" y="307.05" transform="rotate(-90 40.3 307.05)" text-anchor="middle" font-size="9.8" fill="#262626">0.08</text>
<text x="40.3" y="280.1" transform="rotate(-90 40.3 280.1)" text-anchor="middle" font-size="9.8" fill="#262626">0.10</text>
<text x="40.3" y="253.15" transform="rotate(-90 40.3 253.15)" text-anchor="middle" font-size="9.8" fill="#262626">0.12</text>
<text x="62" y="438.7" text-anchor="middle" font-size="10.9" fill="#262626">0:00</text>
<text x="132.92" y="438.7" text-anchor="middle" font-size="10.9" fill="#262626">6:00</text>
<text x="201.24" y="438.7" text-anchor="middle" font-size="10.9" fill="#262626">12:00</text>
<text x="272.16" y="438.7" text-anchor="middle" font-size="10.9" fill="#262626">18:00</text>
<text x="343.08" y="438.7" text-anchor="middle" font-size="10.9" fill="#262626">24:00</text>
<text x="200.8" y="248.3" text-anchor="middle" font-size="12" fill="#262626">&#916;<tspan font-size="8" dy="3">1</tspan><tspan dy="-3"> = 0,08</tspan></text>
<text x="200.8" y="262.9" text-anchor="middle" font-size="12.4" fill="#262626">(0,01 - 0,21)</text>
<path d="M412.5,418.1 L412.5,412.58 413.68,411.65 414.86,410.78 416.05,409.98 417.23,409.25 418.41,408.61 419.59,408.01 420.77,407.46 421.96,406.95 423.14,406.53 424.32,406.21 425.5,405.94 426.68,405.69 427.87,405.48 429.05,405.34 430.23,405.3 431.41,405.33 432.59,405.42 433.78,405.54 434.96,405.69 436.14,405.86 437.32,406.09 438.5,406.42 439.69,406.82 440.87,407.27 442.05,407.72 443.23,408.23 444.41,408.81 445.6,409.43 446.78,410.07 447.96,410.69 449.14,411.31 450.32,411.96 451.51,412.6 452.69,413.19 453.87,413.7 455.05,414.16 456.23,414.59 457.42,414.97 458.6,415.3 459.78,415.56 460.96,415.79 462.14,416 463.33,416.18 464.51,416.3 465.69,416.35 466.87,416.33 468.05,416.29 469.24,416.23 470.42,416.16 471.6,416.08 472.78,415.98 473.96,415.85 475.15,415.7 476.33,415.52 477.51,415.31 478.69,415.09 479.87,414.81 481.06,414.47 482.24,414.07 483.42,413.62 484.6,413.13 485.78,412.55 486.97,411.89 488.15,411.14 489.33,410.32 490.51,409.4 491.69,408.34 492.88,407.14 494.06,405.85 495.24,404.49 496.42,403 497.6,401.35 498.79,399.6 499.97,397.8 501.15,396.01 502.33,394.24 503.51,392.44 504.7,390.55 505.88,388.51 507.06,386.29 508.24,383.86 509.42,381.16 510.61,378.1 511.79,374.33 512.97,370.07 514.15,365.72 515.33,361.67 516.52,361.51 517.7,362.19 518.88,362.99 520.06,363.88 521.24,364.83 522.43,365.82 523.61,366.8 524.79,367.74 525.97,368.65 527.15,369.57 528.34,370.51 529.52,371.43 530.7,372.34 531.88,373.22 533.06,374.05 534.25,374.82 535.43,375.58 536.61,376.33 537.79,377.04 538.97,377.72 540.16,378.35 541.34,378.93 542.52,379.44 543.7,379.92 544.88,380.37 546.07,380.8 547.25,381.2 548.43,381.58 549.61,381.94 550.79,382.28 551.98,382.59 553.16,382.88 554.34,383.14 555.52,383.4 556.7,383.64 557.89,383.86 559.07,384.08 560.25,384.28 561.43,384.47 562.61,384.65 563.8,384.82 564.98,384.98 566.16,385.14 567.34,385.3 568.52,385.45 569.71,385.59 570.89,385.72 572.07,385.85 573.25,385.96 574.43,386.06 575.62,386.14 576.8,386.2 577.98,386.27 579.16,386.32 580.34,386.37 581.53,386.41 582.71,386.43 583.89,386.42 585.07,386.35 586.25,386.21 587.44,386.03 588.62,385.81 589.8,385.56 590.98,385.3 592.16,385.01 593.35,384.64 594.53,384.2 595.71,383.69 596.89,383.14 598.07,382.55 599.26,381.94 600.44,381.32 601.62,380.65 602.8,379.9 603.98,379.1 605.17,378.27 606.35,377.42 607.53,376.58 608.71,375.76 609.89,374.97 611.08,374.18 612.26,373.4 613.44,372.62 614.62,371.83 615.8,371.04 616.99,370.24 618.17,369.43 619.35,368.59 620.53,367.74 621.71,366.87 622.9,366 624.08,365.12 625.26,364.25 626.44,363.4 627.62,362.55 628.81,361.73 629.99,360.95 631.17,360.18 632.35,359.42 633.53,358.68 634.72,357.96 635.9,357.24 637.08,356.84 638.26,360.07 639.44,363.23 640.63,366.35 641.81,369.43 642.99,372.46 644.17,375.44 645.35,378.36 646.54,381.23 647.72,384.03 648.9,386.79 650.08,389.48 651.26,392.06 652.45,394.63 653.63,397.09 654.81,399.24 655.99,401.02 657.17,402.59 658.36,404.09 659.54,405.55 660.72,406.95 661.9,408.26 663.08,409.52 664.27,410.72 665.45,411.77 666.63,412.69 667.81,413.52 668.99,414.19 670.18,414.74 671.36,415.2 672.54,415.54 673.72,415.78 674.9,415.98 676.09,416.09 677.27,416.15 678.45,416.2 679.63,416.21 680.81,416.17 682,416.06 683.18,415.93 684.36,415.75 685.54,415.51 686.72,415.24 687.91,414.95 689.09,414.63 690.27,414.29 691.45,413.94 692.63,413.57 693.82,413.22 695,412.89 696.18,412.58 L696.18,418.1 Z" fill="#f0f2e2"/>
<line x1="412.5" y1="418.1" x2="696.18" y2="418.1" stroke="#7a7a7a" stroke-width="1.1"/>
<path d="M412.27,418.1v2.6M414.43,418.1v2.6M415.21,418.1v2.6M416.15,418.1v2.6M417.5,418.1v2.6M418.79,418.1v2.6M421.17,418.1v2.6M421.73,418.1v2.6M422.61,418.1v2.6M422.64,418.1v2.6M423.07,418.1v2.6M423.31,418.1v2.6M424.33,418.1v2.6M424.96,418.1v2.6M425.09,418.1v2.6M425.29,418.1v2.6M427.4,418.1v2.6M427.45,418.1v2.6M428.79,418.1v2.6M429.08,418.1v2.6M430.12,418.1v2.6M432.1,418.1v2.6M432.49,418.1v2.6M432.55,418.1v2.6M432.84,418.1v2.6M440.67,418.1v2.6M441.14,418.1v2.6M441.26,418.1v2.6M441.53,418.1v2.6M442.01,418.1v2.6M445.09,418.1v2.6M445.33,418.1v2.6M446.66,418.1v2.6M448.64,418.1v2.6M448.99,418.1v2.6M450.88,418.1v2.6M450.94,418.1v2.6M455.05,418.1v2.6M457.6,418.1v2.6M458.19,418.1v2.6M460.09,418.1v2.6M460.37,418.1v2.6M460.51,418.1v2.6M460.59,418.1v2.6M462.86,418.1v2.6M462.96,418.1v2.6M464.78,418.1v2.6M465.23,418.1v2.6M465.44,418.1v2.6M465.49,418.1v2.6M466.34,418.1v2.6M466.49,418.1v2.6M467.29,418.1v2.6M467.62,418.1v2.6M469.41,418.1v2.6M471.09,418.1v2.6M471.94,418.1v2.6M473.99,418.1v2.6M474.57,418.1v2.6M475.32,418.1v2.6M475.6,418.1v2.6M476.25,418.1v2.6M479.54,418.1v2.6M480.66,418.1v2.6M480.79,418.1v2.6M480.8,418.1v2.6M482.22,418.1v2.6M483.22,418.1v2.6M485.41,418.1v2.6M488.76,418.1v2.6M488.88,418.1v2.6M489.57,418.1v2.6M491.47,418.1v2.6M491.48,418.1v2.6M492.11,418.1v2.6M497.73,418.1v2.6M498.17,418.1v2.6M499.34,418.1v2.6M499.39,418.1v2.6M499.69,418.1v2.6M500.8,418.1v2.6M502.55,418.1v2.6M502.62,418.1v2.6M504.04,418.1v2.6M504.93,418.1v2.6M509.05,418.1v2.6M509.09,418.1v2.6M509.4,418.1v2.6M510.12,418.1v2.6M510.72,418.1v2.6M511.59,418.1v2.6M513.3,418.1v2.6M513.47,418.1v2.6M516.8,418.1v2.6M517.15,418.1v2.6M517.67,418.1v2.6M517.99,418.1v2.6M521.84,418.1v2.6M521.91,418.1v2.6M522.43,418.1v2.6M523.23,418.1v2.6M524.79,418.1v2.6M526.48,418.1v2.6M528.78,418.1v2.6M532.17,418.1v2.6M532.53,418.1v2.6M533.49,418.1v2.6M536.63,418.1v2.6M538.09,418.1v2.6M538.41,418.1v2.6M544.36,418.1v2.6M546.96,418.1v2.6M547.1,418.1v2.6M547.84,418.1v2.6M548.11,418.1v2.6M549.49,418.1v2.6M550.59,418.1v2.6M551.53,418.1v2.6M553.1,418.1v2.6M554.34,418.1v2.6M554.77,418.1v2.6M557.71,418.1v2.6M558.83,418.1v2.6M559.81,418.1v2.6M561.48,418.1v2.6M563.71,418.1v2.6M565.73,418.1v2.6M567.06,418.1v2.6M573.59,418.1v2.6M576.05,418.1v2.6M577.99,418.1v2.6M579.36,418.1v2.6M579.97,418.1v2.6M580.52,418.1v2.6M584.47,418.1v2.6M585.08,418.1v2.6M586.61,418.1v2.6M586.78,418.1v2.6M587.63,418.1v2.6M588.88,418.1v2.6M590.95,418.1v2.6M592.41,418.1v2.6M593.9,418.1v2.6M594.95,418.1v2.6M595.96,418.1v2.6M598.32,418.1v2.6M599.51,418.1v2.6M599.59,418.1v2.6M601.13,418.1v2.6M602.43,418.1v2.6M604.05,418.1v2.6M605.54,418.1v2.6M607.17,418.1v2.6M607.27,418.1v2.6M610.25,418.1v2.6M612.77,418.1v2.6M613.36,418.1v2.6M613.92,418.1v2.6M615.84,418.1v2.6M616.56,418.1v2.6M617.38,418.1v2.6M620.51,418.1v2.6M621.26,418.1v2.6M623.29,418.1v2.6M623.53,418.1v2.6M626.16,418.1v2.6M627.22,418.1v2.6M629.17,418.1v2.6M630.7,418.1v2.6M631.58,418.1v2.6M632.12,418.1v2.6M632.5,418.1v2.6M632.57,418.1v2.6M634.04,418.1v2.6M635.06,418.1v2.6M635.16,418.1v2.6M635.92,418.1v2.6M639.18,418.1v2.6M639.63,418.1v2.6M644.01,418.1v2.6M644.96,418.1v2.6M645.83,418.1v2.6M646.08,418.1v2.6M646.44,418.1v2.6M647.32,418.1v2.6M649.34,418.1v2.6M649.66,418.1v2.6M649.95,418.1v2.6M650.08,418.1v2.6M651.43,418.1v2.6M651.79,418.1v2.6M653.01,418.1v2.6M653.74,418.1v2.6M654.93,418.1v2.6M655.89,418.1v2.6M656.76,418.1v2.6M658.44,418.1v2.6M658.46,418.1v2.6M662.47,418.1v2.6M664.19,418.1v2.6M664.86,418.1v2.6M666.67,418.1v2.6M668.41,418.1v2.6M668.45,418.1v2.6M669.19,418.1v2.6M670.52,418.1v2.6M670.56,418.1v2.6M671.18,418.1v2.6M672.98,418.1v2.6M673.43,418.1v2.6M673.83,418.1v2.6M674.55,418.1v2.6M675.35,418.1v2.6M675.77,418.1v2.6M675.96,418.1v2.6M678.88,418.1v2.6M679.11,418.1v2.6M681.48,418.1v2.6M682.62,418.1v2.6M683.65,418.1v2.6M684.32,418.1v2.6M685.55,418.1v2.6M686.62,418.1v2.6M686.73,418.1v2.6M687.27,418.1v2.6M687.51,418.1v2.6M690.04,418.1v2.6M691.45,418.1v2.6M693.66,418.1v2.6M694.62,418.1v2.6" stroke="#238fcf" stroke-width="0.8" fill="none"/>
<path d="M414.46,425.3v-3.2M426.66,425.3v-3.2M507.13,425.3v-3.2M511.23,425.3v-3.2M532.35,425.3v-3.2M534.04,425.3v-3.2M543.87,425.3v-3.2M548.26,425.3v-3.2M553.84,425.3v-3.2M559.05,425.3v-3.2M564.23,425.3v-3.2M568.4,425.3v-3.2M569.75,425.3v-3.2M573.14,425.3v-3.2M579.71,425.3v-3.2M581.07,425.3v-3.2M583.96,425.3v-3.2M584.23,425.3v-3.2M585.68,425.3v-3.2M586.11,425.3v-3.2M588.81,425.3v-3.2M597.06,425.3v-3.2M597.26,425.3v-3.2M598,425.3v-3.2M599.52,425.3v-3.2M600.7,425.3v-3.2M607.97,425.3v-3.2M608.9,425.3v-3.2M608.91,425.3v-3.2M609.46,425.3v-3.2M619.77,425.3v-3.2M622.62,425.3v-3.2M624,425.3v-3.2M636.03,425.3v-3.2M644.36,425.3v-3.2" stroke="#e2d47a" stroke-width="0.8" fill="none"/>
<polyline points="412.5,343.31 413.68,343.59 414.86,343.88 416.05,344.2 417.23,344.55 418.41,344.91 419.59,345.3 420.77,345.7 421.96,346.13 423.14,346.61 424.32,347.12 425.5,347.66 426.68,348.22 427.87,348.79 429.05,349.36 430.23,349.92 431.41,350.46 432.59,350.99 433.78,351.53 434.96,352.07 436.14,352.61 437.32,353.15 438.5,353.68 439.69,354.2 440.87,354.69 442.05,355.17 443.23,355.65 444.41,356.13 445.6,356.62 446.78,357.09 447.96,357.54 449.14,357.97 450.32,358.35 451.51,358.68 452.69,358.94 453.87,359.18 455.05,359.41 456.23,359.63 457.42,359.85 458.6,360.05 459.78,360.24 460.96,360.41 462.14,360.55 463.33,360.67 464.51,360.76 465.69,360.81 466.87,360.83 468.05,360.81 469.24,360.76 470.42,360.67 471.6,360.57 472.78,360.44 473.96,360.31 475.15,360.16 476.33,360.02 477.51,359.89 478.69,359.75 479.87,359.59 481.06,359.42 482.24,359.25 483.42,359.06 484.6,358.88 485.78,358.71 486.97,358.54 488.15,358.37 489.33,358.18 490.51,357.99 491.69,357.81 492.88,357.65 494.06,357.53 495.24,357.46 496.42,357.43 497.6,357.39 498.79,357.37 499.97,357.35 501.15,357.33 502.33,357.33 503.51,357.37 504.7,357.49 505.88,357.67 507.06,357.88 508.24,358.11 509.42,358.39 510.61,358.76 511.79,359.2 512.97,359.72 514.15,360.28 515.33,360.89 516.52,361.51 517.7,362.19 518.88,362.99 520.06,363.88 521.24,364.83 522.43,365.82 523.61,366.8 524.79,367.74 525.97,368.65 527.15,369.57 528.34,370.51 529.52,371.43 530.7,372.34 531.88,373.22 533.06,374.05 534.25,374.82 535.43,375.58 536.61,376.33 537.79,377.04 538.97,377.72 540.16,378.35 541.34,378.93 542.52,379.44 543.7,379.92 544.88,380.37 546.07,380.8 547.25,381.2 548.43,381.58 549.61,381.94 550.79,382.28 551.98,382.59 553.16,382.88 554.34,383.14 555.52,383.4 556.7,383.64 557.89,383.86 559.07,384.08 560.25,384.28 561.43,384.47 562.61,384.65 563.8,384.82 564.98,384.98 566.16,385.14 567.34,385.3 568.52,385.45 569.71,385.59 570.89,385.72 572.07,385.85 573.25,385.96 574.43,386.06 575.62,386.14 576.8,386.2 577.98,386.27 579.16,386.32 580.34,386.37 581.53,386.41 582.71,386.43 583.89,386.42 585.07,386.35 586.25,386.21 587.44,386.03 588.62,385.81 589.8,385.56 590.98,385.3 592.16,385.01 593.35,384.64 594.53,384.2 595.71,383.69 596.89,383.14 598.07,382.55 599.26,381.94 600.44,381.32 601.62,380.65 602.8,379.9 603.98,379.1 605.17,378.27 606.35,377.42 607.53,376.58 608.71,375.76 609.89,374.97 611.08,374.18 612.26,373.4 613.44,372.62 614.62,371.83 615.8,371.04 616.99,370.24 618.17,369.43 619.35,368.59 620.53,367.74 621.71,366.87 622.9,366 624.08,365.12 625.26,364.25 626.44,363.4 627.62,362.55 628.81,361.73 629.99,360.95 631.17,360.18 632.35,359.42 633.53,358.68 634.72,357.96 635.9,357.24 637.08,356.53 638.26,355.83 639.44,355.13 640.63,354.44 641.81,353.75 642.99,353.06 644.17,352.36 645.35,351.67 646.54,350.99 647.72,350.31 648.9,349.65 650.08,349 651.26,348.37 652.45,347.76 653.63,347.18 654.81,346.61 655.99,346.04 657.17,345.47 658.36,344.93 659.54,344.4 660.72,343.9 661.9,343.44 663.08,343.02 664.27,342.64 665.45,342.29 666.63,341.93 667.81,341.59 668.99,341.26 670.18,340.96 671.36,340.7 672.54,340.48 673.72,340.31 674.9,340.21 676.09,340.15 677.27,340.09 678.45,340.04 679.63,340 680.81,339.97 682,339.95 683.18,339.95 684.36,339.98 685.54,340.08 686.72,340.24 687.91,340.43 689.09,340.65 690.27,340.89 691.45,341.19 692.63,341.61 693.82,342.12 695,342.69 696.18,343.31" fill="none" stroke="#238fcf" stroke-width="2.0" stroke-linejoin="round"/>
<polyline points="412.5,412.58 413.68,411.65 414.86,410.78 416.05,409.98 417.23,409.25 418.41,408.61 419.59,408.01 420.77,407.46 421.96,406.95 423.14,406.53 424.32,406.21 425.5,405.94 426.68,405.69 427.87,405.48 429.05,405.34 430.23,405.3 431.41,405.33 432.59,405.42 433.78,405.54 434.96,405.69 436.14,405.86 437.32,406.09 438.5,406.42 439.69,406.82 440.87,407.27 442.05,407.72 443.23,408.23 444.41,408.81 445.6,409.43 446.78,410.07 447.96,410.69 449.14,411.31 450.32,411.96 451.51,412.6 452.69,413.19 453.87,413.7 455.05,414.16 456.23,414.59 457.42,414.97 458.6,415.3 459.78,415.56 460.96,415.79 462.14,416 463.33,416.18 464.51,416.3 465.69,416.35 466.87,416.33 468.05,416.29 469.24,416.23 470.42,416.16 471.6,416.08 472.78,415.98 473.96,415.85 475.15,415.7 476.33,415.52 477.51,415.31 478.69,415.09 479.87,414.81 481.06,414.47 482.24,414.07 483.42,413.62 484.6,413.13 485.78,412.55 486.97,411.89 488.15,411.14 489.33,410.32 490.51,409.4 491.69,408.34 492.88,407.14 494.06,405.85 495.24,404.49 496.42,403 497.6,401.35 498.79,399.6 499.97,397.8 501.15,396.01 502.33,394.24 503.51,392.44 504.7,390.55 505.88,388.51 507.06,386.29 508.24,383.86 509.42,381.16 510.61,378.1 511.79,374.33 512.97,370.07 514.15,365.72 515.33,361.67 516.52,357.72 517.7,353.84 518.88,350.13 520.06,346.64 521.24,343.34 522.43,340.17 523.61,337.06 524.79,333.94 525.97,330.84 527.15,327.85 528.34,325.12 529.52,322.57 530.7,320.14 531.88,318 533.06,316.3 534.25,314.79 535.43,313.47 536.61,312.46 537.79,311.83 538.97,311.33 540.16,310.94 541.34,310.73 542.52,310.72 543.7,310.81 544.88,310.94 546.07,311.09 547.25,311.21 548.43,311.31 549.61,311.41 550.79,311.49 551.98,311.51 553.16,311.29 554.34,310.78 555.52,310.11 556.7,309.35 557.89,308.23 559.07,306.86 560.25,305.45 561.43,304.04 562.61,302.53 563.8,300.89 564.98,299.09 566.16,296.97 567.34,294.68 568.52,292.41 569.71,290.28 570.89,288.2 572.07,286.12 573.25,284 574.43,281.77 575.62,279.51 576.8,277.36 577.98,275.37 579.16,273.48 580.34,271.69 581.53,270.01 582.71,268.34 583.89,266.71 585.07,265.38 586.25,264.48 587.44,263.68 588.62,263.02 589.8,262.58 590.98,262.47 592.16,262.57 593.35,262.8 594.53,263.12 595.71,263.68 596.89,264.97 598.07,266.67 599.26,268.44 600.44,270.51 601.62,272.88 602.8,275.58 603.98,278.64 605.17,281.61 606.35,284.34 607.53,287.01 608.71,289.69 609.89,292.42 611.08,295.14 612.26,297.71 613.44,300.09 614.62,302.45 615.8,305 616.99,307.74 618.17,310.54 619.35,313.34 620.53,316.2 621.71,318.94 622.9,321.4 624.08,323.68 625.26,326.07 626.44,328.71 627.62,331.5 628.81,334.29 629.99,337 631.17,339.76 632.35,342.78 633.53,346.19 634.72,349.81 635.9,353.43 637.08,356.84 638.26,360.07 639.44,363.23 640.63,366.35 641.81,369.43 642.99,372.46 644.17,375.44 645.35,378.36 646.54,381.23 647.72,384.03 648.9,386.79 650.08,389.48 651.26,392.06 652.45,394.63 653.63,397.09 654.81,399.24 655.99,401.02 657.17,402.59 658.36,404.09 659.54,405.55 660.72,406.95 661.9,408.26 663.08,409.52 664.27,410.72 665.45,411.77 666.63,412.69 667.81,413.52 668.99,414.19 670.18,414.74 671.36,415.2 672.54,415.54 673.72,415.78 674.9,415.98 676.09,416.09 677.27,416.15 678.45,416.2 679.63,416.21 680.81,416.17 682,416.06 683.18,415.93 684.36,415.75 685.54,415.51 686.72,415.24 687.91,414.95 689.09,414.63 690.27,414.29 691.45,413.94 692.63,413.57 693.82,413.22 695,412.89 696.18,412.58" fill="none" stroke="#e7dc8e" stroke-width="1.7" stroke-linejoin="round"/>
<rect x="401.3" y="236" width="306.8" height="189.3" fill="none" stroke="#5a5a5a" stroke-width="1.2"/>
<path d="M401.3,418.1h-3.2M401.3,391.15h-3.2M401.3,364.2h-3.2M401.3,337.25h-3.2M401.3,310.3h-3.2M401.3,283.35h-3.2M401.3,256.4h-3.2M412.5,425.3v3.0M483.42,425.3v3.0M554.34,425.3v3.0M625.26,425.3v3.0M696.18,425.3v3.0" stroke="#5a5a5a" stroke-width="1.1" fill="none"/>
<text x="394.1" y="415.25" transform="rotate(-90 394.1 415.25)" text-anchor="middle" font-size="9.8" fill="#262626">0.00</text>
<text x="394.1" y="388.3" transform="rotate(-90 394.1 388.3)" text-anchor="middle" font-size="9.8" fill="#262626">0.02</text>
<text x="394.1" y="361.35" transform="rotate(-90 394.1 361.35)" text-anchor="middle" font-size="9.8" fill="#262626">0.04</text>
<text x="394.1" y="334.4" transform="rotate(-90 394.1 334.4)" text-anchor="middle" font-size="9.8" fill="#262626">0.06</text>
<text x="394.1" y="307.45" transform="rotate(-90 394.1 307.45)" text-anchor="middle" font-size="9.8" fill="#262626">0.08</text>
<text x="394.1" y="280.5" transform="rotate(-90 394.1 280.5)" text-anchor="middle" font-size="9.8" fill="#262626">0.10</text>
<text x="394.1" y="253.55" transform="rotate(-90 394.1 253.55)" text-anchor="middle" font-size="9.8" fill="#262626">0.12</text>
<text x="415.4" y="439.3" text-anchor="middle" font-size="10.9" fill="#262626">0:00</text>
<text x="486.32" y="439.3" text-anchor="middle" font-size="10.9" fill="#262626">6:00</text>
<text x="554.64" y="439.3" text-anchor="middle" font-size="10.9" fill="#262626">12:00</text>
<text x="625.56" y="439.3" text-anchor="middle" font-size="10.9" fill="#262626">18:00</text>
<text x="695.18" y="439.3" text-anchor="middle" font-size="10.9" fill="#262626">24:00</text>
<text x="551.7" y="248.2" text-anchor="middle" font-size="12" fill="#262626">&#916;<tspan font-size="8" dy="3">1</tspan><tspan dy="-3"> = 0,44</tspan></text>
<text x="551.7" y="262.8" text-anchor="middle" font-size="12.4" fill="#262626">(0,33 - 0,55)</text>
<path d="M59.1,653.2 L59.1,647.68 60.28,646.75 61.46,645.88 62.65,645.08 63.83,644.35 65.01,643.71 66.19,643.11 67.37,642.56 68.56,642.05 69.74,641.63 70.92,641.31 72.1,641.04 73.28,640.79 74.47,640.58 75.65,640.44 76.83,640.4 78.01,640.43 79.19,640.52 80.38,640.64 81.56,640.79 82.74,640.96 83.92,641.19 85.1,641.52 86.29,641.92 87.47,642.37 88.65,642.82 89.83,643.33 91.01,643.91 92.2,644.53 93.38,645.17 94.56,645.79 95.74,646.41 96.92,647.06 98.11,647.7 99.29,648.29 100.47,648.8 101.65,649.26 102.83,649.69 104.02,650.07 105.2,650.4 106.38,650.66 107.56,650.89 108.74,651.1 109.93,651.28 111.11,651.4 112.29,651.45 113.47,651.43 114.65,651.39 115.84,651.33 117.02,651.26 118.2,651.18 119.38,651.08 120.56,650.95 121.75,650.8 122.93,650.62 124.11,650.41 125.29,650.19 126.47,649.91 127.66,649.57 128.84,649.17 130.02,648.72 131.2,648.23 132.38,647.65 133.57,646.99 134.75,646.24 135.93,645.42 137.11,644.5 138.29,643.44 139.48,642.24 140.66,640.95 141.84,639.59 143.02,638.1 144.2,636.45 145.39,634.7 146.57,632.9 147.75,631.11 148.93,629.34 150.11,627.54 151.3,625.65 152.48,623.61 153.66,621.39 154.84,618.96 156.02,616.26 157.21,613.2 158.39,611.19 159.57,614.01 160.75,616.84 161.93,619.64 163.12,622.44 164.3,625.25 165.48,627.96 166.66,630.5 167.84,633 169.03,635.43 170.21,637.68 171.39,639.61 172.57,641.17 173.75,642.57 174.94,643.85 176.12,644.99 177.3,646.01 178.48,646.89 179.66,647.68 180.85,648.41 182.03,649.08 183.21,649.67 184.39,650.18 185.57,650.57 186.76,650.88 187.94,651.16 189.12,651.41 190.3,651.63 191.48,651.83 192.67,652 193.85,652.14 195.03,652.26 196.21,652.36 197.39,652.46 198.58,652.55 199.76,652.63 200.94,652.71 202.12,652.77 203.3,652.83 204.49,652.88 205.67,652.91 206.85,652.93 208.03,652.94 209.21,652.96 210.4,652.97 211.58,652.98 212.76,652.99 213.94,653 215.12,653.01 216.31,653.02 217.49,653.02 218.67,653.03 219.85,653.04 221.03,653.04 222.22,653.05 223.4,653.05 224.58,653.06 225.76,653.06 226.94,653.06 228.13,653.06 229.31,653.06 230.49,653.07 231.67,653.06 232.85,653.05 234.04,653.03 235.22,653.01 236.4,652.98 237.58,652.95 238.76,652.92 239.95,652.88 241.13,652.84 242.31,652.8 243.49,652.75 244.67,652.69 245.86,652.62 247.04,652.54 248.22,652.44 249.4,652.32 250.58,652.17 251.77,651.93 252.95,651.6 254.13,651.21 255.31,650.76 256.49,650.29 257.68,649.8 258.86,649.23 260.04,648.59 261.22,647.88 262.4,647.1 263.59,646.27 264.77,645.38 265.95,644.37 267.13,643.26 268.31,642.05 269.5,640.74 270.68,639.35 271.86,637.85 273.04,636.19 274.22,634.38 275.41,632.42 276.59,630.35 277.77,628.18 278.95,625.86 280.13,623.33 281.32,620.61 282.5,617.74 283.68,614.76 284.86,611.61 286.04,608.25 287.23,604.72 288.41,604.53 289.59,607.56 290.77,610.54 291.95,613.46 293.14,616.33 294.32,619.13 295.5,621.89 296.68,624.58 297.86,627.16 299.05,629.73 300.23,632.19 301.41,634.34 302.59,636.12 303.77,637.69 304.96,639.19 306.14,640.65 307.32,642.05 308.5,643.36 309.68,644.62 310.87,645.82 312.05,646.87 313.23,647.79 314.41,648.62 315.59,649.29 316.78,649.84 317.96,650.3 319.14,650.64 320.32,650.88 321.5,651.08 322.69,651.19 323.87,651.25 325.05,651.3 326.23,651.31 327.41,651.27 328.6,651.16 329.78,651.03 330.96,650.85 332.14,650.61 333.32,650.34 334.51,650.05 335.69,649.73 336.87,649.39 338.05,649.04 339.23,648.67 340.42,648.32 341.6,647.99 342.78,647.68 L342.78,653.2 Z" fill="#f0f2e2"/>
<line x1="59.1" y1="653.2" x2="342.78" y2="653.2" stroke="#7a7a7a" stroke-width="1.1"/>
<path d="M61.48,653.2v2.6M70.96,653.2v2.6M74.4,653.2v2.6M85.2,653.2v2.6M86.48,653.2v2.6M109.67,653.2v2.6M109.74,653.2v2.6M113.45,653.2v2.6M116.35,653.2v2.6M117.84,653.2v2.6M118.96,653.2v2.6M118.99,653.2v2.6M136.79,653.2v2.6M136.98,653.2v2.6M139.01,653.2v2.6M145.17,653.2v2.6M146.46,653.2v2.6M149.18,653.2v2.6M152.99,653.2v2.6M154.98,653.2v2.6M157.11,653.2v2.6M172.39,653.2v2.6M295.58,653.2v2.6M296.4,653.2v2.6M297.57,653.2v2.6M308.08,653.2v2.6M308.3,653.2v2.6M308.7,653.2v2.6M312.74,653.2v2.6M319.18,653.2v2.6M319.59,653.2v2.6M323.28,653.2v2.6M331.84,653.2v2.6M332.88,653.2v2.6M337.32,653.2v2.6" stroke="#888888" stroke-width="0.8" fill="none"/>
<path d="M61.06,660.2v-3.2M73.26,660.2v-3.2M153.73,660.2v-3.2M157.83,660.2v-3.2M178.95,660.2v-3.2M180.64,660.2v-3.2M190.47,660.2v-3.2M194.86,660.2v-3.2M200.44,660.2v-3.2M205.65,660.2v-3.2M210.83,660.2v-3.2M215,660.2v-3.2M216.35,660.2v-3.2M219.74,660.2v-3.2M226.31,660.2v-3.2M227.67,660.2v-3.2M230.56,660.2v-3.2M230.83,660.2v-3.2M232.28,660.2v-3.2M232.71,660.2v-3.2M235.41,660.2v-3.2M243.66,660.2v-3.2M243.86,660.2v-3.2M244.6,660.2v-3.2M246.12,660.2v-3.2M247.3,660.2v-3.2M254.57,660.2v-3.2M255.5,660.2v-3.2M255.51,660.2v-3.2M256.06,660.2v-3.2M266.37,660.2v-3.2M269.22,660.2v-3.2M270.6,660.2v-3.2M282.63,660.2v-3.2M290.96,660.2v-3.2" stroke="#e2d47a" stroke-width="0.8" fill="none"/>
<polyline points="59.1,529.77 60.28,529.81 61.46,529.92 62.65,530.08 63.83,530.27 65.01,530.52 66.19,530.92 67.37,531.42 68.56,531.99 69.74,532.6 70.92,533.27 72.1,534.06 73.28,534.94 74.47,535.85 75.65,536.79 76.83,537.8 78.01,538.87 79.19,539.97 80.38,541.06 81.56,542.13 82.74,543.2 83.92,544.27 85.1,545.33 86.29,546.4 87.47,547.46 88.65,548.5 89.83,549.54 91.01,550.6 92.2,551.71 93.38,552.88 94.56,554.09 95.74,555.32 96.92,556.54 98.11,557.73 99.29,558.88 100.47,560.02 101.65,561.16 102.83,562.31 104.02,563.51 105.2,564.77 106.38,566.04 107.56,567.25 108.74,568.34 109.93,569.32 111.11,570.25 112.29,571.1 113.47,571.85 114.65,572.46 115.84,573 117.02,573.48 118.2,573.89 119.38,574.22 120.56,574.45 121.75,574.62 122.93,574.76 124.11,574.89 125.29,575.01 126.47,575.13 127.66,575.23 128.84,575.31 130.02,575.4 131.2,575.5 132.38,575.62 133.57,575.78 134.75,576.01 135.93,576.42 137.11,576.98 138.29,577.65 139.48,578.4 140.66,579.23 141.84,580.28 143.02,581.51 144.2,582.88 145.39,584.36 146.57,586.11 147.75,588.14 148.93,590.32 150.11,592.59 151.3,595.05 152.48,597.62 153.66,600.24 154.84,602.91 156.02,605.64 157.21,608.41 158.39,611.19 159.57,614.01 160.75,616.84 161.93,619.64 163.12,622.44 164.3,625.25 165.48,627.96 166.66,630.5 167.84,633 169.03,635.43 170.21,637.68 171.39,639.61 172.57,641.17 173.75,642.57 174.94,643.85 176.12,644.99 177.3,646.01 178.48,646.89 179.66,647.68 180.85,648.41 182.03,649.08 183.21,649.67 184.39,650.18 185.57,650.57 186.76,650.88 187.94,651.16 189.12,651.41 190.3,651.63 191.48,651.83 192.67,652 193.85,652.14 195.03,652.26 196.21,652.36 197.39,652.46 198.58,652.55 199.76,652.63 200.94,652.71 202.12,652.77 203.3,652.83 204.49,652.88 205.67,652.91 206.85,652.93 208.03,652.94 209.21,652.96 210.4,652.97 211.58,652.98 212.76,652.99 213.94,653 215.12,653.01 216.31,653.02 217.49,653.02 218.67,653.03 219.85,653.04 221.03,653.04 222.22,653.05 223.4,653.05 224.58,653.06 225.76,653.06 226.94,653.06 228.13,653.06 229.31,653.06 230.49,653.07 231.67,653.06 232.85,653.05 234.04,653.03 235.22,653.01 236.4,652.98 237.58,652.95 238.76,652.92 239.95,652.88 241.13,652.84 242.31,652.8 243.49,652.75 244.67,652.69 245.86,652.62 247.04,652.54 248.22,652.44 249.4,652.32 250.58,652.17 251.77,651.93 252.95,651.6 254.13,651.21 255.31,650.76 256.49,650.29 257.68,649.8 258.86,649.23 260.04,648.59 261.22,647.88 262.4,647.1 263.59,646.27 264.77,645.38 265.95,644.37 267.13,643.26 268.31,642.05 269.5,640.74 270.68,639.35 271.86,637.85 273.04,636.19 274.22,634.38 275.41,632.42 276.59,630.35 277.77,628.18 278.95,625.86 280.13,623.33 281.32,620.61 282.5,617.74 283.68,614.76 284.86,611.61 286.04,608.25 287.23,604.72 288.41,601.02 289.59,596.95 290.77,592.76 291.95,588.76 293.14,585.09 294.32,581.57 295.5,578.18 296.68,574.87 297.86,571.63 299.05,568.49 300.23,565.46 301.41,562.54 302.59,559.61 303.77,556.77 304.96,554.15 306.14,551.87 307.32,549.9 308.5,548.12 309.68,546.5 310.87,545.02 312.05,543.64 313.23,542.36 314.41,541.18 315.59,540.1 316.78,539.13 317.96,538.24 319.14,537.42 320.32,536.66 321.5,535.97 322.69,535.32 323.87,534.72 325.05,534.17 326.23,533.67 327.41,533.21 328.6,532.79 329.78,532.4 330.96,532.02 332.14,531.64 333.32,531.27 334.51,530.95 335.69,530.69 336.87,530.48 338.05,530.28 339.23,530.1 340.42,529.95 341.6,529.84 342.78,529.77" fill="none" stroke="#8b72c2" stroke-width="1.7" stroke-linejoin="round"/>
<polyline points="59.1,647.68 60.28,646.75 61.46,645.88 62.65,645.08 63.83,644.35 65.01,643.71 66.19,643.11 67.37,642.56 68.56,642.05 69.74,641.63 70.92,641.31 72.1,641.04 73.28,640.79 74.47,640.58 75.65,640.44 76.83,640.4 78.01,640.43 79.19,640.52 80.38,640.64 81.56,640.79 82.74,640.96 83.92,641.19 85.1,641.52 86.29,641.92 87.47,642.37 88.65,642.82 89.83,643.33 91.01,643.91 92.2,644.53 93.38,645.17 94.56,645.79 95.74,646.41 96.92,647.06 98.11,647.7 99.29,648.29 100.47,648.8 101.65,649.26 102.83,649.69 104.02,650.07 105.2,650.4 106.38,650.66 107.56,650.89 108.74,651.1 109.93,651.28 111.11,651.4 112.29,651.45 113.47,651.43 114.65,651.39 115.84,651.33 117.02,651.26 118.2,651.18 119.38,651.08 120.56,650.95 121.75,650.8 122.93,650.62 124.11,650.41 125.29,650.19 126.47,649.91 127.66,649.57 128.84,649.17 130.02,648.72 131.2,648.23 132.38,647.65 133.57,646.99 134.75,646.24 135.93,645.42 137.11,644.5 138.29,643.44 139.48,642.24 140.66,640.95 141.84,639.59 143.02,638.1 144.2,636.45 145.39,634.7 146.57,632.9 147.75,631.11 148.93,629.34 150.11,627.54 151.3,625.65 152.48,623.61 153.66,621.39 154.84,618.96 156.02,616.26 157.21,613.2 158.39,609.43 159.57,605.17 160.75,600.82 161.93,596.77 163.12,592.82 164.3,588.94 165.48,585.23 166.66,581.74 167.84,578.44 169.03,575.27 170.21,572.16 171.39,569.04 172.57,565.94 173.75,562.95 174.94,560.22 176.12,557.67 177.3,555.24 178.48,553.1 179.66,551.4 180.85,549.89 182.03,548.57 183.21,547.56 184.39,546.93 185.57,546.43 186.76,546.04 187.94,545.83 189.12,545.82 190.3,545.91 191.48,546.04 192.67,546.19 193.85,546.31 195.03,546.41 196.21,546.51 197.39,546.59 198.58,546.61 199.76,546.39 200.94,545.88 202.12,545.21 203.3,544.45 204.49,543.33 205.67,541.96 206.85,540.55 208.03,539.14 209.21,537.63 210.4,535.99 211.58,534.19 212.76,532.07 213.94,529.78 215.12,527.51 216.31,525.38 217.49,523.3 218.67,521.22 219.85,519.1 221.03,516.87 222.22,514.61 223.4,512.46 224.58,510.47 225.76,508.58 226.94,506.79 228.13,505.11 229.31,503.44 230.49,501.81 231.67,500.48 232.85,499.58 234.04,498.78 235.22,498.12 236.4,497.68 237.58,497.57 238.76,497.67 239.95,497.9 241.13,498.22 242.31,498.78 243.49,500.07 244.67,501.77 245.86,503.54 247.04,505.61 248.22,507.98 249.4,510.68 250.58,513.74 251.77,516.71 252.95,519.44 254.13,522.11 255.31,524.79 256.49,527.52 257.68,530.24 258.86,532.81 260.04,535.19 261.22,537.55 262.4,540.1 263.59,542.84 264.77,545.64 265.95,548.44 267.13,551.3 268.31,554.04 269.5,556.5 270.68,558.78 271.86,561.17 273.04,563.81 274.22,566.6 275.41,569.39 276.59,572.1 277.77,574.86 278.95,577.88 280.13,581.29 281.32,584.91 282.5,588.53 283.68,591.94 284.86,595.17 286.04,598.33 287.23,601.45 288.41,604.53 289.59,607.56 290.77,610.54 291.95,613.46 293.14,616.33 294.32,619.13 295.5,621.89 296.68,624.58 297.86,627.16 299.05,629.73 300.23,632.19 301.41,634.34 302.59,636.12 303.77,637.69 304.96,639.19 306.14,640.65 307.32,642.05 308.5,643.36 309.68,644.62 310.87,645.82 312.05,646.87 313.23,647.79 314.41,648.62 315.59,649.29 316.78,649.84 317.96,650.3 319.14,650.64 320.32,650.88 321.5,651.08 322.69,651.19 323.87,651.25 325.05,651.3 326.23,651.31 327.41,651.27 328.6,651.16 329.78,651.03 330.96,650.85 332.14,650.61 333.32,650.34 334.51,650.05 335.69,649.73 336.87,649.39 338.05,649.04 339.23,648.67 340.42,648.32 341.6,647.99 342.78,647.68" fill="none" stroke="#e7dc8e" stroke-width="1.7" stroke-linejoin="round"/>
<rect x="47.5" y="471.7" width="306.8" height="188.5" fill="none" stroke="#5a5a5a" stroke-width="1.2"/>
<path d="M47.5,653.2h-3.2M47.5,626.25h-3.2M47.5,599.3h-3.2M47.5,572.35h-3.2M47.5,545.4h-3.2M47.5,518.45h-3.2M47.5,491.5h-3.2M59.1,660.2v3.0M130.02,660.2v3.0M200.94,660.2v3.0M271.86,660.2v3.0M342.78,660.2v3.0" stroke="#5a5a5a" stroke-width="1.1" fill="none"/>
<text x="40.3" y="650.35" transform="rotate(-90 40.3 650.35)" text-anchor="middle" font-size="9.8" fill="#262626">0.00</text>
<text x="40.3" y="623.4" transform="rotate(-90 40.3 623.4)" text-anchor="middle" font-size="9.8" fill="#262626">0.02</text>
<text x="40.3" y="596.45" transform="rotate(-90 40.3 596.45)" text-anchor="middle" font-size="9.8" fill="#262626">0.04</text>
<text x="40.3" y="569.5" transform="rotate(-90 40.3 569.5)" text-anchor="middle" font-size="9.8" fill="#262626">0.06</text>
<text x="40.3" y="542.55" transform="rotate(-90 40.3 542.55)" text-anchor="middle" font-size="9.8" fill="#262626">0.08</text>
<text x="40.3" y="515.6" transform="rotate(-90 40.3 515.6)" text-anchor="middle" font-size="9.8" fill="#262626">0.10</text>
<text x="40.3" y="488.65" transform="rotate(-90 40.3 488.65)" text-anchor="middle" font-size="9.8" fill="#262626">0.12</text>
<text x="62" y="674.2" text-anchor="middle" font-size="10.9" fill="#262626">0:00</text>
<text x="132.92" y="674.2" text-anchor="middle" font-size="10.9" fill="#262626">6:00</text>
<text x="201.24" y="674.2" text-anchor="middle" font-size="10.9" fill="#262626">12:00</text>
<text x="272.16" y="674.2" text-anchor="middle" font-size="10.9" fill="#262626">18:00</text>
<text x="343.08" y="674.2" text-anchor="middle" font-size="10.9" fill="#262626">24:00</text>
<text x="201" y="483.4" text-anchor="middle" font-size="12" fill="#262626">&#916;<tspan font-size="8" dy="3">1</tspan><tspan dy="-3"> = 0,16</tspan></text>
<text x="201" y="498" text-anchor="middle" font-size="12.4" fill="#262626">(0,04 - 0,34)</text>
<path d="M412.5,653.6 L412.5,578.81 413.68,579.09 414.86,579.38 416.05,579.7 417.23,580.05 418.41,580.41 419.59,580.8 420.77,581.2 421.96,581.63 423.14,582.11 424.32,582.62 425.5,583.16 426.68,583.72 427.87,584.29 429.05,584.86 430.23,585.42 431.41,585.96 432.59,586.49 433.78,587.03 434.96,587.57 436.14,588.11 437.32,588.65 438.5,589.18 439.69,589.7 440.87,590.19 442.05,590.67 443.23,591.15 444.41,591.63 445.6,592.12 446.78,592.59 447.96,593.04 449.14,593.47 450.32,593.85 451.51,594.18 452.69,594.44 453.87,594.68 455.05,594.91 456.23,595.13 457.42,595.35 458.6,595.55 459.78,595.74 460.96,595.91 462.14,596.05 463.33,596.17 464.51,596.26 465.69,596.31 466.87,596.33 468.05,596.31 469.24,596.26 470.42,596.17 471.6,596.07 472.78,595.94 473.96,595.81 475.15,595.66 476.33,595.52 477.51,595.39 478.69,595.25 479.87,595.09 481.06,594.92 482.24,594.75 483.42,594.56 484.6,594.38 485.78,594.21 486.97,594.04 488.15,593.87 489.33,593.68 490.51,593.49 491.69,593.31 492.88,593.15 494.06,593.03 495.24,592.96 496.42,592.93 497.6,592.89 498.79,592.87 499.97,592.85 501.15,592.83 502.33,592.83 503.51,592.99 504.7,595.45 505.88,598.02 507.06,600.64 508.24,603.31 509.42,606.04 510.61,608.81 511.79,611.59 512.97,614.41 514.15,617.24 515.33,620.04 516.52,622.84 517.7,625.65 518.88,628.36 520.06,630.9 521.24,633.4 522.43,635.83 523.61,638.08 524.79,640.01 525.97,641.57 527.15,642.97 528.34,644.25 529.52,645.39 530.7,646.41 531.88,647.29 533.06,648.08 534.25,648.81 535.43,649.48 536.61,650.07 537.79,650.58 538.97,650.97 540.16,651.28 541.34,651.56 542.52,651.81 543.7,652.03 544.88,652.23 546.07,652.4 547.25,652.54 548.43,652.66 549.61,652.76 550.79,652.86 551.98,652.95 553.16,653.03 554.34,653.11 555.52,653.17 556.7,653.23 557.89,653.28 559.07,653.31 560.25,653.33 561.43,653.34 562.61,653.36 563.8,653.37 564.98,653.38 566.16,653.39 567.34,653.4 568.52,653.41 569.71,653.42 570.89,653.42 572.07,653.43 573.25,653.44 574.43,653.44 575.62,653.45 576.8,653.45 577.98,653.46 579.16,653.46 580.34,653.46 581.53,653.46 582.71,653.46 583.89,653.47 585.07,653.46 586.25,653.45 587.44,653.43 588.62,653.41 589.8,653.38 590.98,653.35 592.16,653.32 593.35,653.28 594.53,653.24 595.71,653.2 596.89,653.15 598.07,653.09 599.26,653.02 600.44,652.94 601.62,652.84 602.8,652.72 603.98,652.57 605.17,652.33 606.35,652 607.53,651.61 608.71,651.16 609.89,650.69 611.08,650.2 612.26,649.63 613.44,648.99 614.62,648.28 615.8,647.5 616.99,646.67 618.17,645.78 619.35,644.77 620.53,643.66 621.71,642.45 622.9,641.14 624.08,639.75 625.26,638.25 626.44,636.59 627.62,634.78 628.81,632.82 629.99,630.75 631.17,628.58 632.35,626.26 633.53,623.73 634.72,621.01 635.9,618.14 637.08,615.16 638.26,612.01 639.44,608.65 640.63,605.12 641.81,601.42 642.99,597.35 644.17,593.16 645.35,589.16 646.54,586.49 647.72,585.81 648.9,585.15 650.08,584.5 651.26,583.87 652.45,583.26 653.63,582.68 654.81,582.11 655.99,581.54 657.17,580.97 658.36,580.43 659.54,579.9 660.72,579.4 661.9,578.94 663.08,578.52 664.27,578.14 665.45,577.79 666.63,577.43 667.81,577.09 668.99,576.76 670.18,576.46 671.36,576.2 672.54,575.98 673.72,575.81 674.9,575.71 676.09,575.65 677.27,575.59 678.45,575.54 679.63,575.5 680.81,575.47 682,575.45 683.18,575.44 684.36,575.48 685.54,575.58 686.72,575.74 687.91,575.93 689.09,576.15 690.27,576.39 691.45,576.69 692.63,577.11 693.82,577.62 695,578.19 696.18,578.81 L696.18,653.6 Z" fill="#f2f2f5"/>
<line x1="412.5" y1="653.6" x2="696.18" y2="653.6" stroke="#7a7a7a" stroke-width="1.1"/>
<path d="M414.88,653.6v2.6M424.36,653.6v2.6M427.8,653.6v2.6M438.6,653.6v2.6M439.88,653.6v2.6M463.07,653.6v2.6M463.14,653.6v2.6M466.85,653.6v2.6M469.75,653.6v2.6M471.24,653.6v2.6M472.36,653.6v2.6M472.39,653.6v2.6M490.19,653.6v2.6M490.38,653.6v2.6M492.41,653.6v2.6M498.57,653.6v2.6M499.86,653.6v2.6M502.58,653.6v2.6M506.39,653.6v2.6M508.38,653.6v2.6M510.51,653.6v2.6M525.79,653.6v2.6M648.98,653.6v2.6M649.8,653.6v2.6M650.97,653.6v2.6M661.48,653.6v2.6M661.7,653.6v2.6M662.1,653.6v2.6M666.14,653.6v2.6M672.58,653.6v2.6M672.99,653.6v2.6M676.68,653.6v2.6M685.24,653.6v2.6M686.28,653.6v2.6M690.72,653.6v2.6" stroke="#888888" stroke-width="0.8" fill="none"/>
<path d="M412.27,660.8v-3.2M414.43,660.8v-3.2M415.21,660.8v-3.2M416.15,660.8v-3.2M417.5,660.8v-3.2M418.79,660.8v-3.2M421.17,660.8v-3.2M421.73,660.8v-3.2M422.61,660.8v-3.2M422.64,660.8v-3.2M423.07,660.8v-3.2M423.31,660.8v-3.2M424.33,660.8v-3.2M424.96,660.8v-3.2M425.09,660.8v-3.2M425.29,660.8v-3.2M427.4,660.8v-3.2M427.45,660.8v-3.2M428.79,660.8v-3.2M429.08,660.8v-3.2M430.12,660.8v-3.2M432.1,660.8v-3.2M432.49,660.8v-3.2M432.55,660.8v-3.2M432.84,660.8v-3.2M440.67,660.8v-3.2M441.14,660.8v-3.2M441.26,660.8v-3.2M441.53,660.8v-3.2M442.01,660.8v-3.2M445.09,660.8v-3.2M445.33,660.8v-3.2M446.66,660.8v-3.2M448.64,660.8v-3.2M448.99,660.8v-3.2M450.88,660.8v-3.2M450.94,660.8v-3.2M455.05,660.8v-3.2M457.6,660.8v-3.2M458.19,660.8v-3.2M460.09,660.8v-3.2M460.37,660.8v-3.2M460.51,660.8v-3.2M460.59,660.8v-3.2M462.86,660.8v-3.2M462.96,660.8v-3.2M464.78,660.8v-3.2M465.23,660.8v-3.2M465.44,660.8v-3.2M465.49,660.8v-3.2M466.34,660.8v-3.2M466.49,660.8v-3.2M467.29,660.8v-3.2M467.62,660.8v-3.2M469.41,660.8v-3.2M471.09,660.8v-3.2M471.94,660.8v-3.2M473.99,660.8v-3.2M474.57,660.8v-3.2M475.32,660.8v-3.2M475.6,660.8v-3.2M476.25,660.8v-3.2M479.54,660.8v-3.2M480.66,660.8v-3.2M480.79,660.8v-3.2M480.8,660.8v-3.2M482.22,660.8v-3.2M483.22,660.8v-3.2M485.41,660.8v-3.2M488.76,660.8v-3.2M488.88,660.8v-3.2M489.57,660.8v-3.2M491.47,660.8v-3.2M491.48,660.8v-3.2M492.11,660.8v-3.2M497.73,660.8v-3.2M498.17,660.8v-3.2M499.34,660.8v-3.2M499.39,660.8v-3.2M499.69,660.8v-3.2M500.8,660.8v-3.2M502.55,660.8v-3.2M502.62,660.8v-3.2M504.04,660.8v-3.2M504.93,660.8v-3.2M509.05,660.8v-3.2M509.09,660.8v-3.2M509.4,660.8v-3.2M510.12,660.8v-3.2M510.72,660.8v-3.2M511.59,660.8v-3.2M513.3,660.8v-3.2M513.47,660.8v-3.2M516.8,660.8v-3.2M517.15,660.8v-3.2M517.67,660.8v-3.2M517.99,660.8v-3.2M521.84,660.8v-3.2M521.91,660.8v-3.2M522.43,660.8v-3.2M523.23,660.8v-3.2M524.79,660.8v-3.2M526.48,660.8v-3.2M528.78,660.8v-3.2M532.17,660.8v-3.2M532.53,660.8v-3.2M533.49,660.8v-3.2M536.63,660.8v-3.2M538.09,660.8v-3.2M538.41,660.8v-3.2M544.36,660.8v-3.2M546.96,660.8v-3.2M547.1,660.8v-3.2M547.84,660.8v-3.2M548.11,660.8v-3.2M549.49,660.8v-3.2M550.59,660.8v-3.2M551.53,660.8v-3.2M553.1,660.8v-3.2M554.34,660.8v-3.2M554.77,660.8v-3.2M557.71,660.8v-3.2M558.83,660.8v-3.2M559.81,660.8v-3.2M561.48,660.8v-3.2M563.71,660.8v-3.2M565.73,660.8v-3.2M567.06,660.8v-3.2M573.59,660.8v-3.2M576.05,660.8v-3.2M577.99,660.8v-3.2M579.36,660.8v-3.2M579.97,660.8v-3.2M580.52,660.8v-3.2M584.47,660.8v-3.2M585.08,660.8v-3.2M586.61,660.8v-3.2M586.78,660.8v-3.2M587.63,660.8v-3.2M588.88,660.8v-3.2M590.95,660.8v-3.2M592.41,660.8v-3.2M593.9,660.8v-3.2M594.95,660.8v-3.2M595.96,660.8v-3.2M598.32,660.8v-3.2M599.51,660.8v-3.2M599.59,660.8v-3.2M601.13,660.8v-3.2M602.43,660.8v-3.2M604.05,660.8v-3.2M605.54,660.8v-3.2M607.17,660.8v-3.2M607.27,660.8v-3.2M610.25,660.8v-3.2M612.77,660.8v-3.2M613.36,660.8v-3.2M613.92,660.8v-3.2M615.84,660.8v-3.2M616.56,660.8v-3.2M617.38,660.8v-3.2M620.51,660.8v-3.2M621.26,660.8v-3.2M623.29,660.8v-3.2M623.53,660.8v-3.2M626.16,660.8v-3.2M627.22,660.8v-3.2M629.17,660.8v-3.2M630.7,660.8v-3.2M631.58,660.8v-3.2M632.12,660.8v-3.2M632.5,660.8v-3.2M632.57,660.8v-3.2M634.04,660.8v-3.2M635.06,660.8v-3.2M635.16,660.8v-3.2M635.92,660.8v-3.2M639.18,660.8v-3.2M639.63,660.8v-3.2M644.01,660.8v-3.2M644.96,660.8v-3.2M645.83,660.8v-3.2M646.08,660.8v-3.2M646.44,660.8v-3.2M647.32,660.8v-3.2M649.34,660.8v-3.2M649.66,660.8v-3.2M649.95,660.8v-3.2M650.08,660.8v-3.2M651.43,660.8v-3.2M651.79,660.8v-3.2M653.01,660.8v-3.2M653.74,660.8v-3.2M654.93,660.8v-3.2M655.89,660.8v-3.2M656.76,660.8v-3.2M658.44,660.8v-3.2M658.46,660.8v-3.2M662.47,660.8v-3.2M664.19,660.8v-3.2M664.86,660.8v-3.2M666.67,660.8v-3.2M668.41,660.8v-3.2M668.45,660.8v-3.2M669.19,660.8v-3.2M670.52,660.8v-3.2M670.56,660.8v-3.2M671.18,660.8v-3.2M672.98,660.8v-3.2M673.43,660.8v-3.2M673.83,660.8v-3.2M674.55,660.8v-3.2M675.35,660.8v-3.2M675.77,660.8v-3.2M675.96,660.8v-3.2M678.88,660.8v-3.2M679.11,660.8v-3.2M681.48,660.8v-3.2M682.62,660.8v-3.2M683.65,660.8v-3.2M684.32,660.8v-3.2M685.55,660.8v-3.2M686.62,660.8v-3.2M686.73,660.8v-3.2M687.27,660.8v-3.2M687.51,660.8v-3.2M690.04,660.8v-3.2M691.45,660.8v-3.2M693.66,660.8v-3.2M694.62,660.8v-3.2" stroke="#238fcf" stroke-width="0.8" fill="none"/>
<polyline points="412.5,530.17 413.68,530.21 414.86,530.32 416.05,530.48 417.23,530.67 418.41,530.92 419.59,531.32 420.77,531.82 421.96,532.39 423.14,533 424.32,533.67 425.5,534.46 426.68,535.34 427.87,536.25 429.05,537.19 430.23,538.2 431.41,539.27 432.59,540.37 433.78,541.46 434.96,542.53 436.14,543.6 437.32,544.67 438.5,545.73 439.69,546.8 440.87,547.86 442.05,548.9 443.23,549.94 444.41,551 445.6,552.11 446.78,553.28 447.96,554.49 449.14,555.72 450.32,556.94 451.51,558.13 452.69,559.28 453.87,560.42 455.05,561.56 456.23,562.71 457.42,563.91 458.6,565.17 459.78,566.44 460.96,567.65 462.14,568.74 463.33,569.72 464.51,570.65 465.69,571.5 466.87,572.25 468.05,572.86 469.24,573.4 470.42,573.88 471.6,574.29 472.78,574.62 473.96,574.85 475.15,575.02 476.33,575.16 477.51,575.29 478.69,575.41 479.87,575.53 481.06,575.63 482.24,575.71 483.42,575.8 484.6,575.9 485.78,576.02 486.97,576.18 488.15,576.41 489.33,576.82 490.51,577.38 491.69,578.05 492.88,578.8 494.06,579.63 495.24,580.68 496.42,581.91 497.6,583.28 498.79,584.76 499.97,586.51 501.15,588.54 502.33,590.72 503.51,592.99 504.7,595.45 505.88,598.02 507.06,600.64 508.24,603.31 509.42,606.04 510.61,608.81 511.79,611.59 512.97,614.41 514.15,617.24 515.33,620.04 516.52,622.84 517.7,625.65 518.88,628.36 520.06,630.9 521.24,633.4 522.43,635.83 523.61,638.08 524.79,640.01 525.97,641.57 527.15,642.97 528.34,644.25 529.52,645.39 530.7,646.41 531.88,647.29 533.06,648.08 534.25,648.81 535.43,649.48 536.61,650.07 537.79,650.58 538.97,650.97 540.16,651.28 541.34,651.56 542.52,651.81 543.7,652.03 544.88,652.23 546.07,652.4 547.25,652.54 548.43,652.66 549.61,652.76 550.79,652.86 551.98,652.95 553.16,653.03 554.34,653.11 555.52,653.17 556.7,653.23 557.89,653.28 559.07,653.31 560.25,653.33 561.43,653.34 562.61,653.36 563.8,653.37 564.98,653.38 566.16,653.39 567.34,653.4 568.52,653.41 569.71,653.42 570.89,653.42 572.07,653.43 573.25,653.44 574.43,653.44 575.62,653.45 576.8,653.45 577.98,653.46 579.16,653.46 580.34,653.46 581.53,653.46 582.71,653.46 583.89,653.47 585.07,653.46 586.25,653.45 587.44,653.43 588.62,653.41 589.8,653.38 590.98,653.35 592.16,653.32 593.35,653.28 594.53,653.24 595.71,653.2 596.89,653.15 598.07,653.09 599.26,653.02 600.44,652.94 601.62,652.84 602.8,652.72 603.98,652.57 605.17,652.33 606.35,652 607.53,651.61 608.71,651.16 609.89,650.69 611.08,650.2 612.26,649.63 613.44,648.99 614.62,648.28 615.8,647.5 616.99,646.67 618.17,645.78 619.35,644.77 620.53,643.66 621.71,642.45 622.9,641.14 624.08,639.75 625.26,638.25 626.44,636.59 627.62,634.78 628.81,632.82 629.99,630.75 631.17,628.58 632.35,626.26 633.53,623.73 634.72,621.01 635.9,618.14 637.08,615.16 638.26,612.01 639.44,608.65 640.63,605.12 641.81,601.42 642.99,597.35 644.17,593.16 645.35,589.16 646.54,585.49 647.72,581.97 648.9,578.58 650.08,575.27 651.26,572.03 652.45,568.89 653.63,565.86 654.81,562.94 655.99,560.01 657.17,557.17 658.36,554.55 659.54,552.27 660.72,550.3 661.9,548.52 663.08,546.9 664.27,545.42 665.45,544.04 666.63,542.76 667.81,541.58 668.99,540.5 670.18,539.53 671.36,538.64 672.54,537.82 673.72,537.06 674.9,536.37 676.09,535.72 677.27,535.12 678.45,534.57 679.63,534.07 680.81,533.61 682,533.19 683.18,532.8 684.36,532.42 685.54,532.04 686.72,531.67 687.91,531.35 689.09,531.09 690.27,530.88 691.45,530.68 692.63,530.5 693.82,530.35 695,530.24 696.18,530.17" fill="none" stroke="#8b72c2" stroke-width="1.7" stroke-linejoin="round"/>
<polyline points="412.5,578.81 413.68,579.09 414.86,579.38 416.05,579.7 417.23,580.05 418.41,580.41 419.59,580.8 420.77,581.2 421.96,581.63 423.14,582.11 424.32,582.62 425.5,583.16 426.68,583.72 427.87,584.29 429.05,584.86 430.23,585.42 431.41,585.96 432.59,586.49 433.78,587.03 434.96,587.57 436.14,588.11 437.32,588.65 438.5,589.18 439.69,589.7 440.87,590.19 442.05,590.67 443.23,591.15 444.41,591.63 445.6,592.12 446.78,592.59 447.96,593.04 449.14,593.47 450.32,593.85 451.51,594.18 452.69,594.44 453.87,594.68 455.05,594.91 456.23,595.13 457.42,595.35 458.6,595.55 459.78,595.74 460.96,595.91 462.14,596.05 463.33,596.17 464.51,596.26 465.69,596.31 466.87,596.33 468.05,596.31 469.24,596.26 470.42,596.17 471.6,596.07 472.78,595.94 473.96,595.81 475.15,595.66 476.33,595.52 477.51,595.39 478.69,595.25 479.87,595.09 481.06,594.92 482.24,594.75 483.42,594.56 484.6,594.38 485.78,594.21 486.97,594.04 488.15,593.87 489.33,593.68 490.51,593.49 491.69,593.31 492.88,593.15 494.06,593.03 495.24,592.96 496.42,592.93 497.6,592.89 498.79,592.87 499.97,592.85 501.15,592.83 502.33,592.83 503.51,592.87 504.7,592.99 505.88,593.17 507.06,593.38 508.24,593.61 509.42,593.89 510.61,594.26 511.79,594.7 512.97,595.22 514.15,595.78 515.33,596.39 516.52,597.01 517.7,597.69 518.88,598.49 520.06,599.38 521.24,600.33 522.43,601.32 523.61,602.3 524.79,603.24 525.97,604.15 527.15,605.07 528.34,606.01 529.52,606.93 530.7,607.84 531.88,608.72 533.06,609.55 534.25,610.32 535.43,611.08 536.61,611.83 537.79,612.54 538.97,613.22 540.16,613.85 541.34,614.43 542.52,614.94 543.7,615.42 544.88,615.87 546.07,616.3 547.25,616.7 548.43,617.08 549.61,617.44 550.79,617.78 551.98,618.09 553.16,618.38 554.34,618.64 555.52,618.9 556.7,619.14 557.89,619.36 559.07,619.58 560.25,619.78 561.43,619.97 562.61,620.15 563.8,620.32 564.98,620.48 566.16,620.64 567.34,620.8 568.52,620.95 569.71,621.09 570.89,621.22 572.07,621.35 573.25,621.46 574.43,621.56 575.62,621.64 576.8,621.7 577.98,621.77 579.16,621.82 580.34,621.87 581.53,621.91 582.71,621.93 583.89,621.92 585.07,621.85 586.25,621.71 587.44,621.53 588.62,621.31 589.8,621.06 590.98,620.8 592.16,620.51 593.35,620.14 594.53,619.7 595.71,619.19 596.89,618.64 598.07,618.05 599.26,617.44 600.44,616.82 601.62,616.15 602.8,615.4 603.98,614.6 605.17,613.77 606.35,612.92 607.53,612.08 608.71,611.26 609.89,610.47 611.08,609.68 612.26,608.9 613.44,608.12 614.62,607.33 615.8,606.54 616.99,605.74 618.17,604.93 619.35,604.09 620.53,603.24 621.71,602.37 622.9,601.5 624.08,600.62 625.26,599.75 626.44,598.9 627.62,598.05 628.81,597.23 629.99,596.45 631.17,595.68 632.35,594.92 633.53,594.18 634.72,593.46 635.9,592.74 637.08,592.03 638.26,591.33 639.44,590.63 640.63,589.94 641.81,589.25 642.99,588.56 644.17,587.86 645.35,587.17 646.54,586.49 647.72,585.81 648.9,585.15 650.08,584.5 651.26,583.87 652.45,583.26 653.63,582.68 654.81,582.11 655.99,581.54 657.17,580.97 658.36,580.43 659.54,579.9 660.72,579.4 661.9,578.94 663.08,578.52 664.27,578.14 665.45,577.79 666.63,577.43 667.81,577.09 668.99,576.76 670.18,576.46 671.36,576.2 672.54,575.98 673.72,575.81 674.9,575.71 676.09,575.65 677.27,575.59 678.45,575.54 679.63,575.5 680.81,575.47 682,575.45 683.18,575.44 684.36,575.48 685.54,575.58 686.72,575.74 687.91,575.93 689.09,576.15 690.27,576.39 691.45,576.69 692.63,577.11 693.82,577.62 695,578.19 696.18,578.81" fill="none" stroke="#238fcf" stroke-width="2.0" stroke-linejoin="round"/>
<rect x="401.3" y="471.5" width="306.8" height="189.3" fill="none" stroke="#5a5a5a" stroke-width="1.2"/>
<path d="M401.3,653.6h-3.2M401.3,626.65h-3.2M401.3,599.7h-3.2M401.3,572.75h-3.2M401.3,545.8h-3.2M401.3,518.85h-3.2M401.3,491.9h-3.2M412.5,660.8v3.0M483.42,660.8v3.0M554.34,660.8v3.0M625.26,660.8v3.0M696.18,660.8v3.0" stroke="#5a5a5a" stroke-width="1.1" fill="none"/>
<text x="394.1" y="650.75" transform="rotate(-90 394.1 650.75)" text-anchor="middle" font-size="9.8" fill="#262626">0.00</text>
<text x="394.1" y="623.8" transform="rotate(-90 394.1 623.8)" text-anchor="middle" font-size="9.8" fill="#262626">0.02</text>
<text x="394.1" y="596.85" transform="rotate(-90 394.1 596.85)" text-anchor="middle" font-size="9.8" fill="#262626">0.04</text>
<text x="394.1" y="569.9" transform="rotate(-90 394.1 569.9)" text-anchor="middle" font-size="9.8" fill="#262626">0.06</text>
<text x="394.1" y="542.95" transform="rotate(-90 394.1 542.95)" text-anchor="middle" font-size="9.8" fill="#262626">0.08</text>
<text x="394.1" y="516" transform="rotate(-90 394.1 516)" text-anchor="middle" font-size="9.8" fill="#262626">0.10</text>
<text x="394.1" y="489.05" transform="rotate(-90 394.1 489.05)" text-anchor="middle" font-size="9.8" fill="#262626">0.12</text>
<text x="415.4" y="674.8" text-anchor="middle" font-size="10.9" fill="#262626">0:00</text>
<text x="486.32" y="674.8" text-anchor="middle" font-size="10.9" fill="#262626">6:00</text>
<text x="554.64" y="674.8" text-anchor="middle" font-size="10.9" fill="#262626">12:00</text>
<text x="625.56" y="674.8" text-anchor="middle" font-size="10.9" fill="#262626">18:00</text>
<text x="695.18" y="674.8" text-anchor="middle" font-size="10.9" fill="#262626">24:00</text>
<text x="552.7" y="483.6" text-anchor="middle" font-size="12" fill="#262626">&#916;<tspan font-size="8" dy="3">1</tspan><tspan dy="-3"> = 0,71</tspan></text>
<text x="552.7" y="498.2" text-anchor="middle" font-size="12.4" fill="#262626">(0,56 - 0,88)</text>
<path transform="translate(79.0,4.0)" d="M0.03,17.11C0.07,16.85 0.88,16.55 1.39,16.43C1.98,16.29 2.76,16.30 3.42,16.43C4.11,16.57 4.72,17.01 5.45,17.28C6.28,17.58 7.20,17.95 8.16,18.12C9.21,18.31 10.41,18.32 11.54,18.29C12.67,18.26 13.81,18.13 14.93,17.96C16.06,17.79 17.25,17.46 18.31,17.28C19.26,17.12 20.27,17.14 21.00,16.90C21.55,16.72 22.06,16.60 22.36,16.15C22.78,15.53 22.50,14.03 22.70,13.13C22.86,12.38 23.11,11.80 23.37,11.11C23.66,10.35 23.96,9.45 24.38,8.76C24.76,8.12 25.19,7.51 25.72,7.08C26.21,6.68 26.83,6.44 27.40,6.24C27.95,6.05 28.61,6.10 29.08,5.90C29.48,5.74 29.84,5.59 30.09,5.23C30.43,4.75 30.42,3.72 30.60,3.04C30.76,2.44 30.90,1.81 31.10,1.36C31.25,1.02 31.38,0.67 31.60,0.52C31.79,0.39 32.05,0.38 32.28,0.42C32.55,0.47 32.81,0.85 33.12,0.86C33.48,0.87 33.99,0.32 34.29,0.35C34.50,0.37 34.68,0.51 34.80,0.69C34.96,0.95 34.79,1.51 34.97,1.87C35.19,2.30 35.81,2.67 36.14,3.04C36.41,3.34 36.81,3.63 36.82,3.88C36.83,4.07 36.67,4.27 36.48,4.39C36.20,4.56 35.51,4.42 35.13,4.55C34.80,4.66 34.48,4.80 34.29,5.06C34.06,5.37 34.04,5.89 33.96,6.40C33.85,7.07 33.84,7.95 33.79,8.76C33.73,9.63 33.68,10.62 33.62,11.45C33.57,12.17 33.42,12.79 33.45,13.46C33.48,14.13 33.66,14.88 33.79,15.48C33.89,15.97 33.96,16.46 34.13,16.82C34.26,17.10 34.65,17.32 34.63,17.50C34.62,17.64 34.44,17.78 34.29,17.83C34.08,17.89 33.67,17.82 33.45,17.66C33.21,17.49 33.08,17.14 32.95,16.82C32.79,16.44 32.74,15.95 32.61,15.48C32.46,14.95 32.34,13.97 32.11,13.80C32.01,13.72 31.85,13.72 31.77,13.80C31.60,13.97 31.75,14.89 31.77,15.48C31.80,16.12 31.75,16.96 31.94,17.50C32.09,17.91 32.65,18.27 32.61,18.50C32.58,18.66 32.31,18.81 32.11,18.84C31.84,18.88 31.33,18.70 31.10,18.50C30.91,18.34 30.96,17.89 30.76,17.83C30.43,17.74 29.66,18.61 29.08,18.84C28.54,19.05 28.03,19.10 27.40,19.18C26.61,19.28 25.36,19.56 24.71,19.34C24.26,19.19 24.09,18.69 23.71,18.50C23.31,18.30 22.93,18.18 22.36,18.17C21.37,18.15 19.60,18.68 18.31,18.97C17.13,19.23 16.06,19.54 14.93,19.82C13.80,20.10 12.68,20.58 11.54,20.66C10.42,20.74 9.21,20.56 8.16,20.32C7.19,20.09 6.31,19.69 5.45,19.31C4.62,18.95 3.89,18.37 3.08,18.12C2.31,17.88 1.24,18.05 0.71,17.79C0.38,17.62 -0.00,17.32 0.03,17.11Z" fill="#1f1b1c"/>
<path transform="translate(280.0,46.0)" d="M0.93,7.34C0.93,6.99 1.77,6.50 2.22,6.05C2.73,5.54 3.27,4.91 3.83,4.44C4.35,4.00 4.86,3.60 5.44,3.31C6.03,3.01 6.72,2.83 7.37,2.67C8.01,2.51 8.67,2.32 9.31,2.35C9.96,2.38 10.63,2.66 11.24,2.83C11.80,2.98 12.31,3.31 12.85,3.31C13.39,3.31 13.89,2.96 14.46,2.83C15.07,2.69 15.70,2.61 16.39,2.51C17.18,2.40 18.15,2.37 18.93,2.19C19.63,2.03 20.16,1.72 20.86,1.54C21.65,1.33 22.58,1.17 23.44,1.06C24.30,0.95 25.19,0.87 26.02,0.90C26.80,0.93 27.56,1.02 28.27,1.22C28.95,1.41 29.61,1.66 30.20,2.03C30.80,2.41 31.29,2.94 31.81,3.48C32.37,4.06 32.99,4.74 33.43,5.41C33.84,6.03 34.15,6.66 34.39,7.34C34.64,8.05 34.71,8.84 34.87,9.59C35.03,10.34 35.16,11.13 35.36,11.85C35.54,12.52 35.76,13.21 36.00,13.78C36.20,14.26 36.74,14.80 36.65,15.07C36.59,15.26 36.22,15.43 36.00,15.39C35.69,15.34 35.35,14.65 35.04,14.43C34.82,14.27 34.64,14.08 34.39,14.10C34.02,14.13 33.48,14.69 33.10,15.07C32.73,15.45 32.52,15.99 32.14,16.36C31.76,16.73 31.35,17.10 30.85,17.32C30.30,17.56 29.33,17.78 28.92,17.65C28.67,17.57 28.41,17.33 28.43,17.16C28.47,16.90 29.64,16.77 29.88,16.36C30.12,15.96 30.02,15.20 29.88,14.75C29.76,14.37 29.52,13.88 29.24,13.78C28.98,13.69 28.53,13.88 28.27,14.10C27.96,14.37 27.89,14.97 27.63,15.39C27.36,15.83 27.04,16.33 26.66,16.68C26.29,17.02 25.87,17.31 25.37,17.48C24.81,17.67 23.85,17.80 23.44,17.65C23.20,17.56 22.94,17.33 22.96,17.16C23.00,16.90 24.06,16.73 24.41,16.36C24.74,16.02 24.95,15.51 25.05,15.07C25.15,14.65 25.26,14.10 25.05,13.78C24.80,13.41 24.05,13.28 23.44,13.14C22.69,12.97 21.64,12.85 20.86,12.98C20.15,13.10 19.36,13.44 18.93,13.80C18.61,14.07 18.55,14.41 18.32,14.75C18.04,15.15 17.57,15.59 17.36,16.04C17.17,16.45 17.29,16.98 17.04,17.32C16.77,17.69 16.29,17.96 15.75,18.13C15.00,18.37 13.76,18.30 12.85,18.29C12.05,18.28 11.05,18.38 10.60,18.13C10.33,17.98 10.07,17.66 10.11,17.48C10.15,17.28 10.60,17.16 10.92,17.00C11.36,16.78 12.21,16.74 12.53,16.36C12.84,15.99 12.85,15.29 12.85,14.75C12.85,14.21 12.73,13.66 12.53,13.14C12.31,12.58 11.98,12.01 11.56,11.53C11.12,11.03 10.49,10.67 9.95,10.24C9.41,9.81 8.93,9.27 8.34,8.95C7.75,8.63 7.11,8.40 6.41,8.31C5.62,8.21 4.66,8.53 3.83,8.47C3.05,8.41 2.08,8.25 1.58,7.98C1.26,7.81 0.93,7.59 0.93,7.34Z" fill="#1f1b1c"/>
<path transform="translate(433.8,7.1)" d="M0.03,17.11C0.07,16.85 0.88,16.55 1.39,16.43C1.98,16.29 2.76,16.30 3.42,16.43C4.11,16.57 4.72,17.01 5.45,17.28C6.28,17.58 7.20,17.95 8.16,18.12C9.21,18.31 10.41,18.32 11.54,18.29C12.67,18.26 13.81,18.13 14.93,17.96C16.06,17.79 17.25,17.46 18.31,17.28C19.26,17.12 20.27,17.14 21.00,16.90C21.55,16.72 22.06,16.60 22.36,16.15C22.78,15.53 22.50,14.03 22.70,13.13C22.86,12.38 23.11,11.80 23.37,11.11C23.66,10.35 23.96,9.45 24.38,8.76C24.76,8.12 25.19,7.51 25.72,7.08C26.21,6.68 26.83,6.44 27.40,6.24C27.95,6.05 28.61,6.10 29.08,5.90C29.48,5.74 29.84,5.59 30.09,5.23C30.43,4.75 30.42,3.72 30.60,3.04C30.76,2.44 30.90,1.81 31.10,1.36C31.25,1.02 31.38,0.67 31.60,0.52C31.79,0.39 32.05,0.38 32.28,0.42C32.55,0.47 32.81,0.85 33.12,0.86C33.48,0.87 33.99,0.32 34.29,0.35C34.50,0.37 34.68,0.51 34.80,0.69C34.96,0.95 34.79,1.51 34.97,1.87C35.19,2.30 35.81,2.67 36.14,3.04C36.41,3.34 36.81,3.63 36.82,3.88C36.83,4.07 36.67,4.27 36.48,4.39C36.20,4.56 35.51,4.42 35.13,4.55C34.80,4.66 34.48,4.80 34.29,5.06C34.06,5.37 34.04,5.89 33.96,6.40C33.85,7.07 33.84,7.95 33.79,8.76C33.73,9.63 33.68,10.62 33.62,11.45C33.57,12.17 33.42,12.79 33.45,13.46C33.48,14.13 33.66,14.88 33.79,15.48C33.89,15.97 33.96,16.46 34.13,16.82C34.26,17.10 34.65,17.32 34.63,17.50C34.62,17.64 34.44,17.78 34.29,17.83C34.08,17.89 33.67,17.82 33.45,17.66C33.21,17.49 33.08,17.14 32.95,16.82C32.79,16.44 32.74,15.95 32.61,15.48C32.46,14.95 32.34,13.97 32.11,13.80C32.01,13.72 31.85,13.72 31.77,13.80C31.60,13.97 31.75,14.89 31.77,15.48C31.80,16.12 31.75,16.96 31.94,17.50C32.09,17.91 32.65,18.27 32.61,18.50C32.58,18.66 32.31,18.81 32.11,18.84C31.84,18.88 31.33,18.70 31.10,18.50C30.91,18.34 30.96,17.89 30.76,17.83C30.43,17.74 29.66,18.61 29.08,18.84C28.54,19.05 28.03,19.10 27.40,19.18C26.61,19.28 25.36,19.56 24.71,19.34C24.26,19.19 24.09,18.69 23.71,18.50C23.31,18.30 22.93,18.18 22.36,18.17C21.37,18.15 19.60,18.68 18.31,18.97C17.13,19.23 16.06,19.54 14.93,19.82C13.80,20.10 12.68,20.58 11.54,20.66C10.42,20.74 9.21,20.56 8.16,20.32C7.19,20.09 6.31,19.69 5.45,19.31C4.62,18.95 3.89,18.37 3.08,18.12C2.31,17.88 1.24,18.05 0.71,17.79C0.38,17.62 -0.00,17.32 0.03,17.11Z" fill="#1f1b1c"/>
<path transform="translate(624.0,93.5)" d="M0.12,4.02C0.39,3.63 1.56,3.57 2.35,3.70C3.34,3.86 4.47,4.72 5.52,5.29C6.59,5.88 7.60,6.71 8.69,7.19C9.72,7.64 10.79,7.95 11.86,8.14C12.91,8.33 13.98,8.33 15.04,8.33C16.10,8.33 17.16,8.28 18.21,8.14C19.27,8.00 20.34,7.82 21.38,7.51C22.45,7.19 23.57,6.74 24.55,6.24C25.47,5.77 26.33,5.25 27.09,4.65C27.81,4.08 28.34,3.29 29.00,2.75C29.61,2.25 30.24,1.80 30.90,1.48C31.51,1.18 32.28,1.07 32.80,0.85C33.18,0.69 33.47,0.32 33.75,0.34C33.99,0.36 34.21,0.87 34.40,0.85C34.57,0.83 34.73,0.31 34.83,0.34C35.00,0.39 34.91,1.47 35.02,2.11C35.16,2.88 35.30,3.93 35.66,4.65C35.97,5.28 36.95,5.84 36.93,6.24C36.91,6.51 36.58,6.75 36.29,6.87C35.90,7.03 35.20,6.81 34.70,6.87C34.25,6.93 33.83,6.97 33.44,7.19C32.98,7.45 32.54,7.99 32.17,8.46C31.80,8.94 31.36,9.53 31.22,10.05C31.10,10.48 31.14,10.87 31.22,11.31C31.32,11.82 31.64,12.37 31.85,12.90C32.06,13.43 32.63,14.15 32.48,14.49C32.34,14.79 31.58,15.05 31.22,14.93C30.82,14.80 30.61,14.01 30.26,13.54C29.88,13.02 29.48,12.18 29.00,11.95C28.62,11.76 28.00,11.72 27.73,11.95C27.39,12.23 27.64,13.21 27.41,13.85C27.15,14.58 26.56,15.46 26.14,16.07C25.82,16.53 25.54,17.15 25.19,17.22C24.90,17.28 24.34,16.99 24.24,16.71C24.11,16.36 24.67,15.68 24.87,15.12C25.09,14.52 25.57,13.73 25.50,13.22C25.45,12.83 25.21,12.47 24.87,12.27C24.39,11.99 23.46,12.13 22.65,12.14C21.69,12.15 20.47,12.25 19.48,12.39C18.58,12.52 17.67,12.62 16.94,12.90C16.32,13.14 15.77,13.43 15.35,13.85C14.93,14.27 14.82,15.02 14.40,15.44C13.98,15.86 13.19,15.98 12.81,16.39C12.48,16.75 12.21,17.23 12.18,17.66C12.15,18.08 12.72,18.56 12.62,18.93C12.52,19.31 11.94,19.83 11.55,19.88C11.16,19.93 10.53,19.60 10.28,19.25C10.02,18.88 10.03,18.21 10.09,17.66C10.15,17.05 10.45,16.38 10.72,15.76C11.00,15.11 11.40,14.41 11.74,13.85C12.03,13.37 12.69,12.90 12.62,12.58C12.56,12.29 12.01,12.13 11.55,11.95C10.84,11.67 9.66,11.61 8.69,11.31C7.65,10.99 6.56,10.56 5.52,10.05C4.44,9.51 3.21,8.92 2.35,8.14C1.55,7.42 0.79,6.38 0.44,5.60C0.19,5.04 -0.11,4.35 0.12,4.02Z" fill="#2b3031"/>
<path transform="translate(79.4,242.4)" d="M0.03,17.11C0.07,16.85 0.88,16.55 1.39,16.43C1.98,16.29 2.76,16.30 3.42,16.43C4.11,16.57 4.72,17.01 5.45,17.28C6.28,17.58 7.20,17.95 8.16,18.12C9.21,18.31 10.41,18.32 11.54,18.29C12.67,18.26 13.81,18.13 14.93,17.96C16.06,17.79 17.25,17.46 18.31,17.28C19.26,17.12 20.27,17.14 21.00,16.90C21.55,16.72 22.06,16.60 22.36,16.15C22.78,15.53 22.50,14.03 22.70,13.13C22.86,12.38 23.11,11.80 23.37,11.11C23.66,10.35 23.96,9.45 24.38,8.76C24.76,8.12 25.19,7.51 25.72,7.08C26.21,6.68 26.83,6.44 27.40,6.24C27.95,6.05 28.61,6.10 29.08,5.90C29.48,5.74 29.84,5.59 30.09,5.23C30.43,4.75 30.42,3.72 30.60,3.04C30.76,2.44 30.90,1.81 31.10,1.36C31.25,1.02 31.38,0.67 31.60,0.52C31.79,0.39 32.05,0.38 32.28,0.42C32.55,0.47 32.81,0.85 33.12,0.86C33.48,0.87 33.99,0.32 34.29,0.35C34.50,0.37 34.68,0.51 34.80,0.69C34.96,0.95 34.79,1.51 34.97,1.87C35.19,2.30 35.81,2.67 36.14,3.04C36.41,3.34 36.81,3.63 36.82,3.88C36.83,4.07 36.67,4.27 36.48,4.39C36.20,4.56 35.51,4.42 35.13,4.55C34.80,4.66 34.48,4.80 34.29,5.06C34.06,5.37 34.04,5.89 33.96,6.40C33.85,7.07 33.84,7.95 33.79,8.76C33.73,9.63 33.68,10.62 33.62,11.45C33.57,12.17 33.42,12.79 33.45,13.46C33.48,14.13 33.66,14.88 33.79,15.48C33.89,15.97 33.96,16.46 34.13,16.82C34.26,17.10 34.65,17.32 34.63,17.50C34.62,17.64 34.44,17.78 34.29,17.83C34.08,17.89 33.67,17.82 33.45,17.66C33.21,17.49 33.08,17.14 32.95,16.82C32.79,16.44 32.74,15.95 32.61,15.48C32.46,14.95 32.34,13.97 32.11,13.80C32.01,13.72 31.85,13.72 31.77,13.80C31.60,13.97 31.75,14.89 31.77,15.48C31.80,16.12 31.75,16.96 31.94,17.50C32.09,17.91 32.65,18.27 32.61,18.50C32.58,18.66 32.31,18.81 32.11,18.84C31.84,18.88 31.33,18.70 31.10,18.50C30.91,18.34 30.96,17.89 30.76,17.83C30.43,17.74 29.66,18.61 29.08,18.84C28.54,19.05 28.03,19.10 27.40,19.18C26.61,19.28 25.36,19.56 24.71,19.34C24.26,19.19 24.09,18.69 23.71,18.50C23.31,18.30 22.93,18.18 22.36,18.17C21.37,18.15 19.60,18.68 18.31,18.97C17.13,19.23 16.06,19.54 14.93,19.82C13.80,20.10 12.68,20.58 11.54,20.66C10.42,20.74 9.21,20.56 8.16,20.32C7.19,20.09 6.31,19.69 5.45,19.31C4.62,18.95 3.89,18.37 3.08,18.12C2.31,17.88 1.24,18.05 0.71,17.79C0.38,17.62 -0.00,17.32 0.03,17.11Z" fill="#1f1b1c"/>
<path transform="translate(254.0,261.0)" d="M1.20,7.17C1.24,6.76 1.86,6.07 2.30,5.70C2.72,5.35 3.24,5.15 3.77,4.97C4.33,4.78 5.02,4.62 5.60,4.60C6.12,4.58 6.50,4.73 7.07,4.78C7.88,4.86 8.97,4.96 10.00,4.97C11.15,4.98 12.45,4.87 13.67,4.78C14.89,4.69 16.12,4.54 17.34,4.42C18.56,4.30 19.69,4.12 21.00,4.05C22.52,3.97 24.56,3.90 25.93,4.05C26.93,4.16 27.66,4.31 28.50,4.60C29.38,4.91 30.23,5.40 31.07,5.88C31.94,6.37 32.76,7.03 33.63,7.53C34.47,8.01 35.29,8.51 36.20,8.82C37.12,9.13 38.22,9.36 39.13,9.37C39.92,9.38 40.63,9.26 41.34,9.00C42.10,8.73 42.92,8.23 43.54,7.72C44.12,7.24 44.66,6.68 45.00,6.07C45.31,5.50 45.55,4.84 45.55,4.23C45.55,3.62 45.19,2.97 45.00,2.40C44.82,1.88 44.31,1.10 44.45,0.93C44.56,0.80 45.08,0.95 45.37,1.12C45.76,1.35 46.20,1.90 46.47,2.40C46.76,2.93 46.98,3.59 47.02,4.23C47.06,4.92 46.92,5.76 46.65,6.43C46.38,7.10 45.88,7.72 45.37,8.27C44.85,8.83 44.21,9.36 43.54,9.73C42.87,10.10 42.14,10.29 41.34,10.47C40.44,10.67 39.38,10.80 38.40,10.83C37.42,10.86 36.41,10.75 35.47,10.65C34.58,10.56 33.64,10.33 32.90,10.28C32.34,10.24 31.81,10.10 31.43,10.28C31.09,10.44 30.76,10.84 30.70,11.20C30.63,11.62 31.03,12.28 31.25,12.67C31.41,12.97 31.86,13.25 31.80,13.40C31.74,13.55 31.16,13.69 30.88,13.58C30.52,13.44 30.30,12.58 29.97,12.30C29.73,12.10 29.51,11.91 29.23,11.94C28.81,11.98 28.20,12.60 27.77,13.03C27.34,13.46 27.05,14.36 26.67,14.50C26.43,14.59 26.04,14.50 25.93,14.32C25.76,14.05 26.16,13.16 26.30,12.67C26.41,12.26 26.80,11.82 26.67,11.57C26.52,11.29 25.74,11.29 25.20,11.20C24.54,11.09 23.63,11.14 23.00,11.02C22.51,10.93 22.25,10.72 21.73,10.65C20.96,10.54 19.60,10.50 18.80,10.65C18.22,10.76 17.54,10.84 17.34,11.20C17.12,11.60 17.78,12.47 17.70,13.03C17.63,13.56 17.30,14.37 16.97,14.50C16.71,14.60 16.25,14.39 16.05,14.13C15.78,13.77 16.02,12.88 15.87,12.30C15.72,11.72 15.64,10.96 15.13,10.65C14.37,10.18 12.13,10.44 11.10,10.83C10.31,11.13 9.87,11.77 9.27,12.30C8.64,12.86 7.97,13.63 7.43,14.13C7.03,14.50 6.70,14.99 6.33,15.05C6.03,15.10 5.48,14.90 5.42,14.68C5.34,14.40 5.98,13.86 6.33,13.40C6.75,12.84 7.42,12.17 7.80,11.57C8.12,11.07 8.60,10.53 8.53,10.10C8.46,9.68 7.88,9.27 7.43,9.00C6.93,8.70 6.24,8.57 5.60,8.45C4.91,8.32 4.10,8.37 3.40,8.27C2.76,8.18 1.93,8.17 1.57,7.90C1.33,7.72 1.18,7.45 1.20,7.17Z" fill="#1f1b1c"/>
<path transform="translate(409.7,320.0)" d="M0.12,4.02C0.39,3.63 1.56,3.57 2.35,3.70C3.34,3.86 4.47,4.72 5.52,5.29C6.59,5.88 7.60,6.71 8.69,7.19C9.72,7.64 10.79,7.95 11.86,8.14C12.91,8.33 13.98,8.33 15.04,8.33C16.10,8.33 17.16,8.28 18.21,8.14C19.27,8.00 20.34,7.82 21.38,7.51C22.45,7.19 23.57,6.74 24.55,6.24C25.47,5.77 26.33,5.25 27.09,4.65C27.81,4.08 28.34,3.29 29.00,2.75C29.61,2.25 30.24,1.80 30.90,1.48C31.51,1.18 32.28,1.07 32.80,0.85C33.18,0.69 33.47,0.32 33.75,0.34C33.99,0.36 34.21,0.87 34.40,0.85C34.57,0.83 34.73,0.31 34.83,0.34C35.00,0.39 34.91,1.47 35.02,2.11C35.16,2.88 35.30,3.93 35.66,4.65C35.97,5.28 36.95,5.84 36.93,6.24C36.91,6.51 36.58,6.75 36.29,6.87C35.90,7.03 35.20,6.81 34.70,6.87C34.25,6.93 33.83,6.97 33.44,7.19C32.98,7.45 32.54,7.99 32.17,8.46C31.80,8.94 31.36,9.53 31.22,10.05C31.10,10.48 31.14,10.87 31.22,11.31C31.32,11.82 31.64,12.37 31.85,12.90C32.06,13.43 32.63,14.15 32.48,14.49C32.34,14.79 31.58,15.05 31.22,14.93C30.82,14.80 30.61,14.01 30.26,13.54C29.88,13.02 29.48,12.18 29.00,11.95C28.62,11.76 28.00,11.72 27.73,11.95C27.39,12.23 27.64,13.21 27.41,13.85C27.15,14.58 26.56,15.46 26.14,16.07C25.82,16.53 25.54,17.15 25.19,17.22C24.90,17.28 24.34,16.99 24.24,16.71C24.11,16.36 24.67,15.68 24.87,15.12C25.09,14.52 25.57,13.73 25.50,13.22C25.45,12.83 25.21,12.47 24.87,12.27C24.39,11.99 23.46,12.13 22.65,12.14C21.69,12.15 20.47,12.25 19.48,12.39C18.58,12.52 17.67,12.62 16.94,12.90C16.32,13.14 15.77,13.43 15.35,13.85C14.93,14.27 14.82,15.02 14.40,15.44C13.98,15.86 13.19,15.98 12.81,16.39C12.48,16.75 12.21,17.23 12.18,17.66C12.15,18.08 12.72,18.56 12.62,18.93C12.52,19.31 11.94,19.83 11.55,19.88C11.16,19.93 10.53,19.60 10.28,19.25C10.02,18.88 10.03,18.21 10.09,17.66C10.15,17.05 10.45,16.38 10.72,15.76C11.00,15.11 11.40,14.41 11.74,13.85C12.03,13.37 12.69,12.90 12.62,12.58C12.56,12.29 12.01,12.13 11.55,11.95C10.84,11.67 9.66,11.61 8.69,11.31C7.65,10.99 6.56,10.56 5.52,10.05C4.44,9.51 3.21,8.92 2.35,8.14C1.55,7.42 0.79,6.38 0.44,5.60C0.19,5.04 -0.11,4.35 0.12,4.02Z" fill="#2b3031"/>
<path transform="translate(606.6,258.0)" d="M1.20,7.17C1.24,6.76 1.86,6.07 2.30,5.70C2.72,5.35 3.24,5.15 3.77,4.97C4.33,4.78 5.02,4.62 5.60,4.60C6.12,4.58 6.50,4.73 7.07,4.78C7.88,4.86 8.97,4.96 10.00,4.97C11.15,4.98 12.45,4.87 13.67,4.78C14.89,4.69 16.12,4.54 17.34,4.42C18.56,4.30 19.69,4.12 21.00,4.05C22.52,3.97 24.56,3.90 25.93,4.05C26.93,4.16 27.66,4.31 28.50,4.60C29.38,4.91 30.23,5.40 31.07,5.88C31.94,6.37 32.76,7.03 33.63,7.53C34.47,8.01 35.29,8.51 36.20,8.82C37.12,9.13 38.22,9.36 39.13,9.37C39.92,9.38 40.63,9.26 41.34,9.00C42.10,8.73 42.92,8.23 43.54,7.72C44.12,7.24 44.66,6.68 45.00,6.07C45.31,5.50 45.55,4.84 45.55,4.23C45.55,3.62 45.19,2.97 45.00,2.40C44.82,1.88 44.31,1.10 44.45,0.93C44.56,0.80 45.08,0.95 45.37,1.12C45.76,1.35 46.20,1.90 46.47,2.40C46.76,2.93 46.98,3.59 47.02,4.23C47.06,4.92 46.92,5.76 46.65,6.43C46.38,7.10 45.88,7.72 45.37,8.27C44.85,8.83 44.21,9.36 43.54,9.73C42.87,10.10 42.14,10.29 41.34,10.47C40.44,10.67 39.38,10.80 38.40,10.83C37.42,10.86 36.41,10.75 35.47,10.65C34.58,10.56 33.64,10.33 32.90,10.28C32.34,10.24 31.81,10.10 31.43,10.28C31.09,10.44 30.76,10.84 30.70,11.20C30.63,11.62 31.03,12.28 31.25,12.67C31.41,12.97 31.86,13.25 31.80,13.40C31.74,13.55 31.16,13.69 30.88,13.58C30.52,13.44 30.30,12.58 29.97,12.30C29.73,12.10 29.51,11.91 29.23,11.94C28.81,11.98 28.20,12.60 27.77,13.03C27.34,13.46 27.05,14.36 26.67,14.50C26.43,14.59 26.04,14.50 25.93,14.32C25.76,14.05 26.16,13.16 26.30,12.67C26.41,12.26 26.80,11.82 26.67,11.57C26.52,11.29 25.74,11.29 25.20,11.20C24.54,11.09 23.63,11.14 23.00,11.02C22.51,10.93 22.25,10.72 21.73,10.65C20.96,10.54 19.60,10.50 18.80,10.65C18.22,10.76 17.54,10.84 17.34,11.20C17.12,11.60 17.78,12.47 17.70,13.03C17.63,13.56 17.30,14.37 16.97,14.50C16.71,14.60 16.25,14.39 16.05,14.13C15.78,13.77 16.02,12.88 15.87,12.30C15.72,11.72 15.64,10.96 15.13,10.65C14.37,10.18 12.13,10.44 11.10,10.83C10.31,11.13 9.87,11.77 9.27,12.30C8.64,12.86 7.97,13.63 7.43,14.13C7.03,14.50 6.70,14.99 6.33,15.05C6.03,15.10 5.48,14.90 5.42,14.68C5.34,14.40 5.98,13.86 6.33,13.40C6.75,12.84 7.42,12.17 7.80,11.57C8.12,11.07 8.60,10.53 8.53,10.10C8.46,9.68 7.88,9.27 7.43,9.00C6.93,8.70 6.24,8.57 5.60,8.45C4.91,8.32 4.10,8.37 3.40,8.27C2.76,8.18 1.93,8.17 1.57,7.90C1.33,7.72 1.18,7.45 1.20,7.17Z" fill="#1f1b1c"/>
<path transform="translate(96.1,509.4) scale(-1,1)" d="M0.93,7.34C0.93,6.99 1.77,6.50 2.22,6.05C2.73,5.54 3.27,4.91 3.83,4.44C4.35,4.00 4.86,3.60 5.44,3.31C6.03,3.01 6.72,2.83 7.37,2.67C8.01,2.51 8.67,2.32 9.31,2.35C9.96,2.38 10.63,2.66 11.24,2.83C11.80,2.98 12.31,3.31 12.85,3.31C13.39,3.31 13.89,2.96 14.46,2.83C15.07,2.69 15.70,2.61 16.39,2.51C17.18,2.40 18.15,2.37 18.93,2.19C19.63,2.03 20.16,1.72 20.86,1.54C21.65,1.33 22.58,1.17 23.44,1.06C24.30,0.95 25.19,0.87 26.02,0.90C26.80,0.93 27.56,1.02 28.27,1.22C28.95,1.41 29.61,1.66 30.20,2.03C30.80,2.41 31.29,2.94 31.81,3.48C32.37,4.06 32.99,4.74 33.43,5.41C33.84,6.03 34.15,6.66 34.39,7.34C34.64,8.05 34.71,8.84 34.87,9.59C35.03,10.34 35.16,11.13 35.36,11.85C35.54,12.52 35.76,13.21 36.00,13.78C36.20,14.26 36.74,14.80 36.65,15.07C36.59,15.26 36.22,15.43 36.00,15.39C35.69,15.34 35.35,14.65 35.04,14.43C34.82,14.27 34.64,14.08 34.39,14.10C34.02,14.13 33.48,14.69 33.10,15.07C32.73,15.45 32.52,15.99 32.14,16.36C31.76,16.73 31.35,17.10 30.85,17.32C30.30,17.56 29.33,17.78 28.92,17.65C28.67,17.57 28.41,17.33 28.43,17.16C28.47,16.90 29.64,16.77 29.88,16.36C30.12,15.96 30.02,15.20 29.88,14.75C29.76,14.37 29.52,13.88 29.24,13.78C28.98,13.69 28.53,13.88 28.27,14.10C27.96,14.37 27.89,14.97 27.63,15.39C27.36,15.83 27.04,16.33 26.66,16.68C26.29,17.02 25.87,17.31 25.37,17.48C24.81,17.67 23.85,17.80 23.44,17.65C23.20,17.56 22.94,17.33 22.96,17.16C23.00,16.90 24.06,16.73 24.41,16.36C24.74,16.02 24.95,15.51 25.05,15.07C25.15,14.65 25.26,14.10 25.05,13.78C24.80,13.41 24.05,13.28 23.44,13.14C22.69,12.97 21.64,12.85 20.86,12.98C20.15,13.10 19.36,13.44 18.93,13.80C18.61,14.07 18.55,14.41 18.32,14.75C18.04,15.15 17.57,15.59 17.36,16.04C17.17,16.45 17.29,16.98 17.04,17.32C16.77,17.69 16.29,17.96 15.75,18.13C15.00,18.37 13.76,18.30 12.85,18.29C12.05,18.28 11.05,18.38 10.60,18.13C10.33,17.98 10.07,17.66 10.11,17.48C10.15,17.28 10.60,17.16 10.92,17.00C11.36,16.78 12.21,16.74 12.53,16.36C12.84,15.99 12.85,15.29 12.85,14.75C12.85,14.21 12.73,13.66 12.53,13.14C12.31,12.58 11.98,12.01 11.56,11.53C11.12,11.03 10.49,10.67 9.95,10.24C9.41,9.81 8.93,9.27 8.34,8.95C7.75,8.63 7.11,8.40 6.41,8.31C5.62,8.21 4.66,8.53 3.83,8.47C3.05,8.41 2.08,8.25 1.58,7.98C1.26,7.81 0.93,7.59 0.93,7.34Z" fill="#1f1b1c"/>
<path transform="translate(252.0,490.0)" d="M1.20,7.17C1.24,6.76 1.86,6.07 2.30,5.70C2.72,5.35 3.24,5.15 3.77,4.97C4.33,4.78 5.02,4.62 5.60,4.60C6.12,4.58 6.50,4.73 7.07,4.78C7.88,4.86 8.97,4.96 10.00,4.97C11.15,4.98 12.45,4.87 13.67,4.78C14.89,4.69 16.12,4.54 17.34,4.42C18.56,4.30 19.69,4.12 21.00,4.05C22.52,3.97 24.56,3.90 25.93,4.05C26.93,4.16 27.66,4.31 28.50,4.60C29.38,4.91 30.23,5.40 31.07,5.88C31.94,6.37 32.76,7.03 33.63,7.53C34.47,8.01 35.29,8.51 36.20,8.82C37.12,9.13 38.22,9.36 39.13,9.37C39.92,9.38 40.63,9.26 41.34,9.00C42.10,8.73 42.92,8.23 43.54,7.72C44.12,7.24 44.66,6.68 45.00,6.07C45.31,5.50 45.55,4.84 45.55,4.23C45.55,3.62 45.19,2.97 45.00,2.40C44.82,1.88 44.31,1.10 44.45,0.93C44.56,0.80 45.08,0.95 45.37,1.12C45.76,1.35 46.20,1.90 46.47,2.40C46.76,2.93 46.98,3.59 47.02,4.23C47.06,4.92 46.92,5.76 46.65,6.43C46.38,7.10 45.88,7.72 45.37,8.27C44.85,8.83 44.21,9.36 43.54,9.73C42.87,10.10 42.14,10.29 41.34,10.47C40.44,10.67 39.38,10.80 38.40,10.83C37.42,10.86 36.41,10.75 35.47,10.65C34.58,10.56 33.64,10.33 32.90,10.28C32.34,10.24 31.81,10.10 31.43,10.28C31.09,10.44 30.76,10.84 30.70,11.20C30.63,11.62 31.03,12.28 31.25,12.67C31.41,12.97 31.86,13.25 31.80,13.40C31.74,13.55 31.16,13.69 30.88,13.58C30.52,13.44 30.30,12.58 29.97,12.30C29.73,12.10 29.51,11.91 29.23,11.94C28.81,11.98 28.20,12.60 27.77,13.03C27.34,13.46 27.05,14.36 26.67,14.50C26.43,14.59 26.04,14.50 25.93,14.32C25.76,14.05 26.16,13.16 26.30,12.67C26.41,12.26 26.80,11.82 26.67,11.57C26.52,11.29 25.74,11.29 25.20,11.20C24.54,11.09 23.63,11.14 23.00,11.02C22.51,10.93 22.25,10.72 21.73,10.65C20.96,10.54 19.60,10.50 18.80,10.65C18.22,10.76 17.54,10.84 17.34,11.20C17.12,11.60 17.78,12.47 17.70,13.03C17.63,13.56 17.30,14.37 16.97,14.50C16.71,14.60 16.25,14.39 16.05,14.13C15.78,13.77 16.02,12.88 15.87,12.30C15.72,11.72 15.64,10.96 15.13,10.65C14.37,10.18 12.13,10.44 11.10,10.83C10.31,11.13 9.87,11.77 9.27,12.30C8.64,12.86 7.97,13.63 7.43,14.13C7.03,14.50 6.70,14.99 6.33,15.05C6.03,15.10 5.48,14.90 5.42,14.68C5.34,14.40 5.98,13.86 6.33,13.40C6.75,12.84 7.42,12.17 7.80,11.57C8.12,11.07 8.60,10.53 8.53,10.10C8.46,9.68 7.88,9.27 7.43,9.00C6.93,8.70 6.24,8.57 5.60,8.45C4.91,8.32 4.10,8.37 3.40,8.27C2.76,8.18 1.93,8.17 1.57,7.90C1.33,7.72 1.18,7.45 1.20,7.17Z" fill="#1f1b1c"/>
<path transform="translate(402.8,556.2)" d="M0.12,4.02C0.39,3.63 1.56,3.57 2.35,3.70C3.34,3.86 4.47,4.72 5.52,5.29C6.59,5.88 7.60,6.71 8.69,7.19C9.72,7.64 10.79,7.95 11.86,8.14C12.91,8.33 13.98,8.33 15.04,8.33C16.10,8.33 17.16,8.28 18.21,8.14C19.27,8.00 20.34,7.82 21.38,7.51C22.45,7.19 23.57,6.74 24.55,6.24C25.47,5.77 26.33,5.25 27.09,4.65C27.81,4.08 28.34,3.29 29.00,2.75C29.61,2.25 30.24,1.80 30.90,1.48C31.51,1.18 32.28,1.07 32.80,0.85C33.18,0.69 33.47,0.32 33.75,0.34C33.99,0.36 34.21,0.87 34.40,0.85C34.57,0.83 34.73,0.31 34.83,0.34C35.00,0.39 34.91,1.47 35.02,2.11C35.16,2.88 35.30,3.93 35.66,4.65C35.97,5.28 36.95,5.84 36.93,6.24C36.91,6.51 36.58,6.75 36.29,6.87C35.90,7.03 35.20,6.81 34.70,6.87C34.25,6.93 33.83,6.97 33.44,7.19C32.98,7.45 32.54,7.99 32.17,8.46C31.80,8.94 31.36,9.53 31.22,10.05C31.10,10.48 31.14,10.87 31.22,11.31C31.32,11.82 31.64,12.37 31.85,12.90C32.06,13.43 32.63,14.15 32.48,14.49C32.34,14.79 31.58,15.05 31.22,14.93C30.82,14.80 30.61,14.01 30.26,13.54C29.88,13.02 29.48,12.18 29.00,11.95C28.62,11.76 28.00,11.72 27.73,11.95C27.39,12.23 27.64,13.21 27.41,13.85C27.15,14.58 26.56,15.46 26.14,16.07C25.82,16.53 25.54,17.15 25.19,17.22C24.90,17.28 24.34,16.99 24.24,16.71C24.11,16.36 24.67,15.68 24.87,15.12C25.09,14.52 25.57,13.73 25.50,13.22C25.45,12.83 25.21,12.47 24.87,12.27C24.39,11.99 23.46,12.13 22.65,12.14C21.69,12.15 20.47,12.25 19.48,12.39C18.58,12.52 17.67,12.62 16.94,12.90C16.32,13.14 15.77,13.43 15.35,13.85C14.93,14.27 14.82,15.02 14.40,15.44C13.98,15.86 13.19,15.98 12.81,16.39C12.48,16.75 12.21,17.23 12.18,17.66C12.15,18.08 12.72,18.56 12.62,18.93C12.52,19.31 11.94,19.83 11.55,19.88C11.16,19.93 10.53,19.60 10.28,19.25C10.02,18.88 10.03,18.21 10.09,17.66C10.15,17.05 10.45,16.38 10.72,15.76C11.00,15.11 11.40,14.41 11.74,13.85C12.03,13.37 12.69,12.90 12.62,12.58C12.56,12.29 12.01,12.13 11.55,11.95C10.84,11.67 9.66,11.61 8.69,11.31C7.65,10.99 6.56,10.56 5.52,10.05C4.44,9.51 3.21,8.92 2.35,8.14C1.55,7.42 0.79,6.38 0.44,5.60C0.19,5.04 -0.11,4.35 0.12,4.02Z" fill="#2b3031"/>
<path transform="translate(659.6,506.3)" d="M0.93,7.34C0.93,6.99 1.77,6.50 2.22,6.05C2.73,5.54 3.27,4.91 3.83,4.44C4.35,4.00 4.86,3.60 5.44,3.31C6.03,3.01 6.72,2.83 7.37,2.67C8.01,2.51 8.67,2.32 9.31,2.35C9.96,2.38 10.63,2.66 11.24,2.83C11.80,2.98 12.31,3.31 12.85,3.31C13.39,3.31 13.89,2.96 14.46,2.83C15.07,2.69 15.70,2.61 16.39,2.51C17.18,2.40 18.15,2.37 18.93,2.19C19.63,2.03 20.16,1.72 20.86,1.54C21.65,1.33 22.58,1.17 23.44,1.06C24.30,0.95 25.19,0.87 26.02,0.90C26.80,0.93 27.56,1.02 28.27,1.22C28.95,1.41 29.61,1.66 30.20,2.03C30.80,2.41 31.29,2.94 31.81,3.48C32.37,4.06 32.99,4.74 33.43,5.41C33.84,6.03 34.15,6.66 34.39,7.34C34.64,8.05 34.71,8.84 34.87,9.59C35.03,10.34 35.16,11.13 35.36,11.85C35.54,12.52 35.76,13.21 36.00,13.78C36.20,14.26 36.74,14.80 36.65,15.07C36.59,15.26 36.22,15.43 36.00,15.39C35.69,15.34 35.35,14.65 35.04,14.43C34.82,14.27 34.64,14.08 34.39,14.10C34.02,14.13 33.48,14.69 33.10,15.07C32.73,15.45 32.52,15.99 32.14,16.36C31.76,16.73 31.35,17.10 30.85,17.32C30.30,17.56 29.33,17.78 28.92,17.65C28.67,17.57 28.41,17.33 28.43,17.16C28.47,16.90 29.64,16.77 29.88,16.36C30.12,15.96 30.02,15.20 29.88,14.75C29.76,14.37 29.52,13.88 29.24,13.78C28.98,13.69 28.53,13.88 28.27,14.10C27.96,14.37 27.89,14.97 27.63,15.39C27.36,15.83 27.04,16.33 26.66,16.68C26.29,17.02 25.87,17.31 25.37,17.48C24.81,17.67 23.85,17.80 23.44,17.65C23.20,17.56 22.94,17.33 22.96,17.16C23.00,16.90 24.06,16.73 24.41,16.36C24.74,16.02 24.95,15.51 25.05,15.07C25.15,14.65 25.26,14.10 25.05,13.78C24.80,13.41 24.05,13.28 23.44,13.14C22.69,12.97 21.64,12.85 20.86,12.98C20.15,13.10 19.36,13.44 18.93,13.80C18.61,14.07 18.55,14.41 18.32,14.75C18.04,15.15 17.57,15.59 17.36,16.04C17.17,16.45 17.29,16.98 17.04,17.32C16.77,17.69 16.29,17.96 15.75,18.13C15.00,18.37 13.76,18.30 12.85,18.29C12.05,18.28 11.05,18.38 10.60,18.13C10.33,17.98 10.07,17.66 10.11,17.48C10.15,17.28 10.60,17.16 10.92,17.00C11.36,16.78 12.21,16.74 12.53,16.36C12.84,15.99 12.85,15.29 12.85,14.75C12.85,14.21 12.73,13.66 12.53,13.14C12.31,12.58 11.98,12.01 11.56,11.53C11.12,11.03 10.49,10.67 9.95,10.24C9.41,9.81 8.93,9.27 8.34,8.95C7.75,8.63 7.11,8.40 6.41,8.31C5.62,8.21 4.66,8.53 3.83,8.47C3.05,8.41 2.08,8.25 1.58,7.98C1.26,7.81 0.93,7.59 0.93,7.34Z" fill="#1f1b1c"/>
<text x="17.2" y="300.5" transform="rotate(-90 17.2 300.5)" text-anchor="middle" font-size="19.5" fill="#222">Density</text>
<text x="362.6" y="707.2" text-anchor="middle" font-size="19.5" fill="#222">Time</text>
</svg>
</body></html>
